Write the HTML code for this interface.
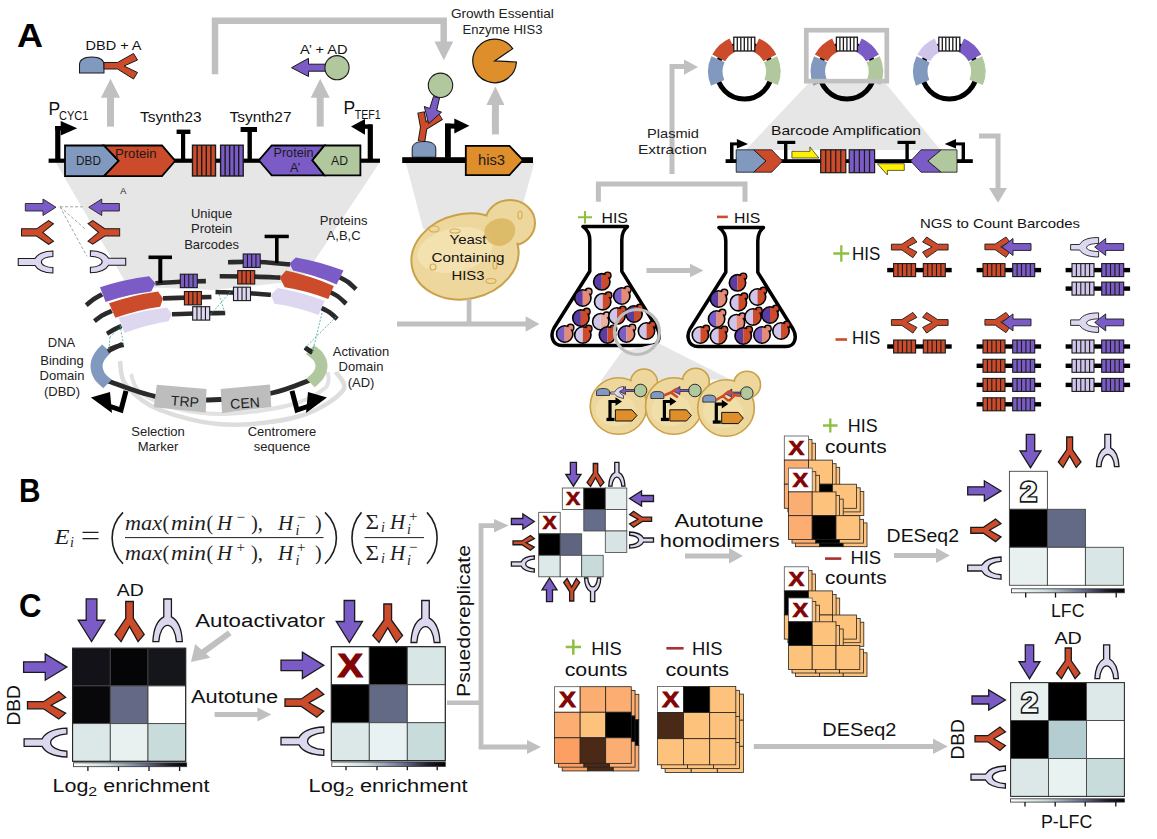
<!DOCTYPE html>
<html><head><meta charset="utf-8"><style>
html,body{margin:0;padding:0;background:#fff;}
svg{display:block;}

</style></head><body>
<svg width="1157" height="839" viewBox="0 0 1157 839">

<defs>
<g id="arr"><path d="M0,6 H19 V0 L33,11 L19,22 V16 H0 Z" fill="#7b5cc6" stroke="#1a1a1a" stroke-width="1"/></g>
<g id="ya"><path d="M0,3 L5,0 L17.5,8 H33 V15 H17.5 L5,23 L0,20 L11,11.5 Z" fill="#cc4b2b" stroke="#1a1a1a" stroke-width="1"/></g>
<g id="ua"><path d="M0,0.5 C9,0.5 15,4 17,8 H33 V15 H17 C15,19 9,22.5 0,22.5 V17 C6,17 11,14.5 11,11.5 C11,8.5 6,6 0,6 Z" fill="#ddd7f0" stroke="#1a1a1a" stroke-width="1"/></g>
<g id="dbd"><path d="M0,16 V8 C0,2.5 5,0 12,0 C19,0 24,2.5 24,8 V16 Z" fill="#8199bf" stroke="#1a1a1a" stroke-width="1"/></g>
</defs>

<text x="17" y="47" font-size="34" text-anchor="start" fill="#000" font-weight="bold" font-family="Liberation Sans" textLength="26" lengthAdjust="spacingAndGlyphs" >A</text><polygon points="55.5,162 380,162 305,275 290,282 213,290 140,287 130,290" fill="#e6e6e6"/><polyline points="215,74.2 215,20.8 443.7,20.8 443.7,42" fill="none" stroke="#c0c0c0" stroke-width="6.5"/><polygon points="434.5,41.5 453.2,41.5 443.8,60.2" fill="#c0c0c0"/><text x="85.5" y="50" font-size="13.5" text-anchor="start" fill="#111" font-weight="normal" font-family="Liberation Sans" textLength="56" lengthAdjust="spacingAndGlyphs" stroke="#111" stroke-width="0" >DBD + A</text><use href="#dbd" transform="translate(79.5,57) rotate(0) scale(1.02,1.0)"/><path d="M104,62.5 H117.5 L133.5,53.5 L137.5,60 L124,66 L137.5,72.5 L133.5,79 L117.5,69 H104 Z" fill="#cc4b2b" stroke="#1a1a1a" stroke-width="1"/><text x="300" y="54" font-size="13.5" text-anchor="start" fill="#111" font-weight="normal" font-family="Liberation Sans" textLength="47.5" lengthAdjust="spacingAndGlyphs" stroke="#111" stroke-width="0" >A&#8217; + AD</text><path d="M291.5,67.7 L308.5,58.3 V64.2 H326 V71.2 H308.5 V76.5 Z" fill="#7b5cc6" stroke="#1a1a1a" stroke-width="1"/><circle cx="337" cy="67.7" r="12.1" fill="#b1c89f" stroke="#1a1a1a" stroke-width="1.1"/><rect x="107.0" y="97.2" width="7" height="29.39999999999999" fill="#c0c0c0"/><polygon points="101.0,97.7 110.5,78.7 120.0,97.7" fill="#c0c0c0"/><rect x="316.7" y="97.2" width="7" height="29.39999999999999" fill="#c0c0c0"/><polygon points="310.7,97.7 320.2,78.7 329.7,97.7" fill="#c0c0c0"/><rect x="48.6" y="158.6" width="331.4" height="4.2" fill="#000"/><rect x="55.2" y="126" width="5.2" height="35" fill="#000"/><rect x="55.2" y="126" width="8" height="4.4" fill="#000"/><polygon points="60.7,121 77.2,128.3 60.7,135.6" fill="#000"/><polygon points="65,145.5 104,145.5 118.7,160.8 104,176.2 65,176.2" fill="#8199bf" stroke="#000" stroke-width="1.8"/><polygon points="104,145.5 162,145.5 175.2,160.8 162,176.2 104,176.2 118.7,160.8" fill="#cc4b2b" stroke="#000" stroke-width="1.8"/><text x="76" y="165" font-size="12.5" text-anchor="start" fill="#1a1a1a" font-weight="normal" font-family="Liberation Sans" textLength="25" lengthAdjust="spacingAndGlyphs" stroke="#1a1a1a" stroke-width="0" >DBD</text><text x="115" y="158" font-size="12.5" text-anchor="start" fill="#1a1a1a" font-weight="normal" font-family="Liberation Sans" textLength="41.5" lengthAdjust="spacingAndGlyphs" stroke="#1a1a1a" stroke-width="0" >Protein</text><rect x="181" y="131" width="4.2" height="30" fill="#000"/><rect x="176.6" y="129.6" width="13.8" height="4.4" fill="#000"/><rect x="247.5" y="128" width="4.4" height="33" fill="#000"/><rect x="240.6" y="127" width="16.4" height="5" fill="#000"/><rect x="192.5" y="145.2" width="23" height="30.8" fill="#cc4b2b" stroke="#1a1a1a" stroke-width="1.4"/><line x1="197.10" y1="145.2" x2="197.10" y2="176.0" stroke="#1a1a1a" stroke-width="1.4"/><line x1="201.70" y1="145.2" x2="201.70" y2="176.0" stroke="#1a1a1a" stroke-width="1.4"/><line x1="206.30" y1="145.2" x2="206.30" y2="176.0" stroke="#1a1a1a" stroke-width="1.4"/><line x1="210.90" y1="145.2" x2="210.90" y2="176.0" stroke="#1a1a1a" stroke-width="1.4"/><rect x="220.6" y="145.2" width="22.6" height="30.8" fill="#7b5cc6" stroke="#1a1a1a" stroke-width="1.4"/><line x1="225.12" y1="145.2" x2="225.12" y2="176.0" stroke="#1a1a1a" stroke-width="1.4"/><line x1="229.64" y1="145.2" x2="229.64" y2="176.0" stroke="#1a1a1a" stroke-width="1.4"/><line x1="234.16" y1="145.2" x2="234.16" y2="176.0" stroke="#1a1a1a" stroke-width="1.4"/><line x1="238.68" y1="145.2" x2="238.68" y2="176.0" stroke="#1a1a1a" stroke-width="1.4"/><polygon points="258.8,160.3 271.7,145.5 324.5,145.5 312.4,160.3 324.5,175.4 271.7,175.4" fill="#7b5cc6" stroke="#000" stroke-width="1.8"/><polygon points="324.5,145.5 360.4,145.5 360.4,175.4 324.5,175.4 312.4,160.3" fill="#b1c89f" stroke="#000" stroke-width="1.8"/><text x="273.5" y="157" font-size="12.5" text-anchor="start" fill="#1a1a1a" font-weight="normal" font-family="Liberation Sans" textLength="40" lengthAdjust="spacingAndGlyphs" stroke="#1a1a1a" stroke-width="0" >Protein</text><text x="290" y="171.5" font-size="12.5" text-anchor="start" fill="#1a1a1a" font-weight="normal" font-family="Liberation Sans" stroke="#1a1a1a" stroke-width="0" >A&#8217;</text><text x="331" y="165" font-size="12.5" text-anchor="start" fill="#1a1a1a" font-weight="normal" font-family="Liberation Sans" textLength="17" lengthAdjust="spacingAndGlyphs" stroke="#1a1a1a" stroke-width="0" >AD</text><rect x="367.7" y="124.4" width="5.2" height="36.5" fill="#000"/><rect x="363" y="124.4" width="9" height="4.4" fill="#000"/><polygon points="351,126.6 365,119 365,134.8" fill="#000"/><text x="48.6" y="115.4" font-size="17.5" text-anchor="start" fill="#111" font-weight="normal" font-family="Liberation Sans" stroke="#111" stroke-width="0" >P</text><text x="59" y="120.3" font-size="12" text-anchor="start" fill="#111" font-weight="normal" font-family="Liberation Sans" textLength="29.4" lengthAdjust="spacingAndGlyphs" stroke="#111" stroke-width="0" >CYC1</text><text x="140" y="122" font-size="14.5" text-anchor="start" fill="#111" font-weight="normal" font-family="Liberation Sans" textLength="61.6" lengthAdjust="spacingAndGlyphs" stroke="#111" stroke-width="0" >Tsynth23</text><text x="229.4" y="122" font-size="14.5" text-anchor="start" fill="#111" font-weight="normal" font-family="Liberation Sans" textLength="62.2" lengthAdjust="spacingAndGlyphs" stroke="#111" stroke-width="0" >Tsynth27</text><text x="343.5" y="113.5" font-size="17.5" text-anchor="start" fill="#111" font-weight="normal" font-family="Liberation Sans" stroke="#111" stroke-width="0" >P</text><text x="354.7" y="118.5" font-size="12" text-anchor="start" fill="#111" font-weight="normal" font-family="Liberation Sans" textLength="26" lengthAdjust="spacingAndGlyphs" stroke="#111" stroke-width="0" >TEF1</text><use href="#arr" transform="translate(25.3,199) rotate(0) scale(0.93,0.75)"/><use href="#arr" transform="translate(119.4,215.5) rotate(180) scale(0.93,0.75)"/><use href="#ya" transform="translate(53.5,244.3) rotate(180) scale(0.97,1.03)"/><use href="#ya" transform="translate(88,220.5) rotate(0) scale(0.96,1.03)"/><use href="#ua" transform="translate(52.9,273.5) rotate(180) scale(1.05,1.0)"/><use href="#ua" transform="translate(90.4,250.3) rotate(0) scale(1.07,1.0)"/><path d="M60,206.8 H82.7 M60,206.8 L86.3,230 M60,206.8 L86.9,256.3" stroke="#999" stroke-width="0.9" stroke-dasharray="3,2" fill="none"/><text x="120.2" y="193.7" font-size="9" text-anchor="start" fill="#222" font-weight="normal" font-family="Liberation Sans" stroke="#222" stroke-width="0" >A</text><path d="M120.0,361.0 C121.0,365.0 119.3,376.8 126.0,385.0 C132.7,393.2 143.3,403.4 160.0,410.0 C176.7,416.6 202.7,423.6 226.0,424.6 C249.3,425.6 280.6,421.6 300.0,416.0 C319.4,410.4 336.6,398.3 342.6,391.0 C348.6,383.7 337.1,375.2 336.0,372.0" fill="none" stroke="#dddddd" stroke-width="4.5"/><path d="M131.0,374.0 C132.5,377.0 132.7,386.3 140.0,392.0 C147.3,397.7 160.7,404.3 175.0,408.0 C189.3,411.7 206.8,414.5 226.0,414.0 C245.2,413.5 273.5,409.3 290.0,405.0 C306.5,400.7 318.7,393.5 325.0,388.0 C331.3,382.5 327.5,374.7 328.0,372.0" fill="none" stroke="#e2e2e2" stroke-width="4"/><path d="M107.8,381.0 C115.7,383.6 138.3,393.1 155.0,396.3 C171.7,399.5 188.6,400.5 207.8,400.0 C227.0,399.5 252.5,397.0 270.0,393.5 C287.5,390.0 305.7,381.4 312.8,379.0" fill="none" stroke="#2a2a2a" stroke-width="4.8"/><path d="M106.5,348.5 C105.3,349.8 101.2,353.6 99.5,356.5 C97.8,359.4 96.5,362.8 96.5,366.0 C96.5,369.2 97.7,373.0 99.5,376.0 C101.3,379.0 106.2,382.7 107.5,384.0" fill="none" stroke="#8199bf" stroke-width="12"/><path d="M310.0,349.5 C311.4,350.8 316.6,354.2 318.5,357.0 C320.4,359.8 321.5,363.0 321.5,366.0 C321.5,369.0 320.3,372.2 318.5,375.0 C316.7,377.8 311.8,381.7 310.5,383.0" fill="none" stroke="#b1c89f" stroke-width="12"/><path d="M107.8,351.3 L122.4,344" stroke="#2a2a2a" stroke-width="4.5"/><path d="M305,347.7 L312.3,352.5" stroke="#2a2a2a" stroke-width="4.5"/><polygon points="156.8,384.8 206.5,389 205.8,412.6 153.8,407.2" fill="#bdbdbd"/><polygon points="220.7,389 270,384.5 271.3,407 222,413" fill="#bdbdbd"/><text x="171" y="406" font-size="14" text-anchor="start" fill="#222" font-weight="normal" font-family="Liberation Sans" stroke="#222" stroke-width="0" transform="rotate(4 180 400)">TRP</text><text x="230" y="408" font-size="14" text-anchor="start" fill="#222" font-weight="normal" font-family="Liberation Sans" stroke="#222" stroke-width="0" transform="rotate(-4 245 400)">CEN</text><path d="M126,390.8 L121,410 L106,405" fill="none" stroke="#000" stroke-width="5"/><polygon points="90.9,397.5 110,392 112,413" fill="#000"/><path d="M292,390.8 L297,410 L312,405" fill="none" stroke="#000" stroke-width="5"/><polygon points="327,397.5 308,392 306,413" fill="#000"/><path d="M86.2,305.3 C87.5,304.2 91.3,300.8 94.0,299.0 C96.7,297.2 100.8,295.1 102.1,294.3" fill="none" stroke="#2a2a2a" stroke-width="4.6"/><path d="M155.4,283.2 C159.5,283.0 171.6,282.1 180.0,281.8 C188.4,281.5 201.6,281.2 205.9,281.1" fill="none" stroke="#2a2a2a" stroke-width="4.6"/><path d="M94.5,321.2 C95.8,320.2 99.1,317.2 102.0,315.5 C104.9,313.8 110.2,311.7 111.8,310.9" fill="none" stroke="#2a2a2a" stroke-width="4.6"/><path d="M163.0,298.4 C167.5,298.2 181.9,297.7 190.0,297.5 C198.1,297.3 207.8,297.1 211.4,297.0" fill="none" stroke="#2a2a2a" stroke-width="4.6"/><path d="M107.0,333.7 C108.2,333.0 111.6,330.8 114.0,329.5 C116.4,328.2 120.2,326.6 121.5,326.0" fill="none" stroke="#2a2a2a" stroke-width="4.6"/><path d="M172.0,314.3 C176.7,314.1 191.1,313.5 200.0,313.3 C208.9,313.1 221.0,313.1 225.2,313.0" fill="none" stroke="#2a2a2a" stroke-width="4.6"/><path d="M109.0,349.6 C110.2,349.1 113.6,347.6 116.0,346.8 C118.4,346.0 122.3,345.1 123.6,344.7" fill="none" stroke="#2a2a2a" stroke-width="4.6"/><path d="M228.0,262.3 C232.5,262.2 244.7,261.5 255.0,261.8 C265.3,262.1 284.2,264.0 290.0,264.4" fill="none" stroke="#2a2a2a" stroke-width="4.6"/><path d="M338.0,276.5 C339.7,277.4 345.0,279.9 348.0,282.0 C351.0,284.1 354.7,288.1 356.0,289.3" fill="none" stroke="#2a2a2a" stroke-width="4.6"/><path d="M219.7,276.2 C224.8,276.2 239.9,276.3 250.0,276.5 C260.1,276.7 275.4,277.4 280.5,277.6" fill="none" stroke="#2a2a2a" stroke-width="4.6"/><path d="M329.0,291.5 C330.5,292.3 335.1,294.4 338.0,296.5 C340.9,298.6 344.8,302.6 346.2,303.8" fill="none" stroke="#2a2a2a" stroke-width="4.6"/><path d="M215.5,292.0 C220.4,292.2 235.8,292.5 245.0,293.0 C254.2,293.5 266.6,294.5 270.9,294.8" fill="none" stroke="#2a2a2a" stroke-width="4.6"/><path d="M319.0,307.0 C320.7,307.8 326.0,310.0 329.0,312.0 C332.0,314.0 335.8,317.8 337.2,319.0" fill="none" stroke="#2a2a2a" stroke-width="4.6"/><path d="M305,347.7 L312.3,352.5" fill="none" stroke="#2a2a2a" stroke-width="4.6"/><path d="M105.6,301.9 L100,287.3 Q124.6,279.3 149.2,276.3 L155.4,283.2 L151.2,291.5 Q128.4,294.2 105.6,301.9 Z" fill="#7b5cc6"/><path d="M115.3,317.8 L109,303.2 Q133.6,294.9 158.1,291.5 L163,298.4 L160.2,306.7 Q137.8,309.8 115.3,317.8 Z" fill="#cc4b2b"/><path d="M124.3,333 L118.7,317.8 Q142.9,310.1 167.1,307.4 L172,314.3 L168.5,321.2 Q146.4,324.6 124.3,333 Z" fill="#ddd7f0"/><path d="M289.5,263.5 L295.8,257.5 Q319.6,261.6 343.5,270.6 L336.6,284.5 Q314.8,275.1 293,270.6 Z" fill="#7b5cc6"/><path d="M279.8,277.6 L286,270.6 Q309.9,275.8 333.8,285.9 L328.3,299 Q306.5,290.6 284.7,287.2 Z" fill="#cc4b2b"/><path d="M270.9,294.8 L277.8,288 Q301.3,292.0 324.8,301 L318.6,314.9 Q296.5,306.9 274.3,303.8 Z" fill="#ddd7f0"/><rect x="180.3" y="274.2" width="17" height="13.4" fill="#7b5cc6" stroke="#1a1a1a" stroke-width="1.1"/><line x1="184.55" y1="274.2" x2="184.55" y2="287.59999999999997" stroke="#1a1a1a" stroke-width="1.1"/><line x1="188.80" y1="274.2" x2="188.80" y2="287.59999999999997" stroke="#1a1a1a" stroke-width="1.1"/><line x1="193.05" y1="274.2" x2="193.05" y2="287.59999999999997" stroke="#1a1a1a" stroke-width="1.1"/><rect x="184.4" y="291.5" width="17" height="13.4" fill="#cc4b2b" stroke="#1a1a1a" stroke-width="1.1"/><line x1="188.65" y1="291.5" x2="188.65" y2="304.9" stroke="#1a1a1a" stroke-width="1.1"/><line x1="192.90" y1="291.5" x2="192.90" y2="304.9" stroke="#1a1a1a" stroke-width="1.1"/><line x1="197.15" y1="291.5" x2="197.15" y2="304.9" stroke="#1a1a1a" stroke-width="1.1"/><rect x="192.7" y="306.7" width="17" height="13.4" fill="#ddd7f0" stroke="#1a1a1a" stroke-width="1.1"/><line x1="196.95" y1="306.7" x2="196.95" y2="320.09999999999997" stroke="#1a1a1a" stroke-width="1.1"/><line x1="201.20" y1="306.7" x2="201.20" y2="320.09999999999997" stroke="#1a1a1a" stroke-width="1.1"/><line x1="205.45" y1="306.7" x2="205.45" y2="320.09999999999997" stroke="#1a1a1a" stroke-width="1.1"/><rect x="243.2" y="254" width="17" height="13.4" fill="#7b5cc6" stroke="#1a1a1a" stroke-width="1.1"/><line x1="247.45" y1="254" x2="247.45" y2="267.4" stroke="#1a1a1a" stroke-width="1.1"/><line x1="251.70" y1="254" x2="251.70" y2="267.4" stroke="#1a1a1a" stroke-width="1.1"/><line x1="255.95" y1="254" x2="255.95" y2="267.4" stroke="#1a1a1a" stroke-width="1.1"/><rect x="237.7" y="270.6" width="17" height="13.4" fill="#cc4b2b" stroke="#1a1a1a" stroke-width="1.1"/><line x1="241.95" y1="270.6" x2="241.95" y2="284.0" stroke="#1a1a1a" stroke-width="1.1"/><line x1="246.20" y1="270.6" x2="246.20" y2="284.0" stroke="#1a1a1a" stroke-width="1.1"/><line x1="250.45" y1="270.6" x2="250.45" y2="284.0" stroke="#1a1a1a" stroke-width="1.1"/><rect x="233.5" y="287.2" width="17" height="13.4" fill="#ddd7f0" stroke="#1a1a1a" stroke-width="1.1"/><line x1="237.75" y1="287.2" x2="237.75" y2="300.59999999999997" stroke="#1a1a1a" stroke-width="1.1"/><line x1="242.00" y1="287.2" x2="242.00" y2="300.59999999999997" stroke="#1a1a1a" stroke-width="1.1"/><line x1="246.25" y1="287.2" x2="246.25" y2="300.59999999999997" stroke="#1a1a1a" stroke-width="1.1"/><rect x="158.3" y="257" width="4" height="26" fill="#000"/><rect x="148.5" y="255.5" width="23.5" height="3.6" fill="#000"/><rect x="275" y="236" width="3.6" height="27" fill="#000"/><rect x="264.6" y="234.7" width="24.2" height="3.5" fill="#000"/><path d="M120,325.4 L123.6,344.7 M109.7,337 L122,326 M109,349.6 L110,337 M219,294.3 L224.5,311.5 M232.8,289.4 L210.7,314.3 M322,313 L312.3,352.5 M305,347.7 L336,317" stroke="#3aa89a" stroke-width="0.8" stroke-dasharray="2,1.5" fill="none"/><text x="211.6" y="217.5" font-size="13" text-anchor="middle" fill="#222" font-weight="normal" font-family="Liberation Sans" stroke="#222" stroke-width="0" >Unique</text><text x="211.6" y="233" font-size="13" text-anchor="middle" fill="#222" font-weight="normal" font-family="Liberation Sans" stroke="#222" stroke-width="0" >Protein</text><text x="211.6" y="248.5" font-size="13" text-anchor="middle" fill="#222" font-weight="normal" font-family="Liberation Sans" stroke="#222" stroke-width="0" >Barcodes</text><text x="343.6" y="224.5" font-size="13" text-anchor="middle" fill="#222" font-weight="normal" font-family="Liberation Sans" stroke="#222" stroke-width="0" >Proteins</text><text x="343.6" y="239.5" font-size="13" text-anchor="middle" fill="#222" font-weight="normal" font-family="Liberation Sans" stroke="#222" stroke-width="0" >A,B,C</text><text x="61.5" y="347.3" font-size="13" text-anchor="middle" fill="#222" font-weight="normal" font-family="Liberation Sans" stroke="#222" stroke-width="0" >DNA</text><text x="62" y="364.5" font-size="13" text-anchor="middle" fill="#222" font-weight="normal" font-family="Liberation Sans" stroke="#222" stroke-width="0" >Binding</text><text x="62" y="380" font-size="13" text-anchor="middle" fill="#222" font-weight="normal" font-family="Liberation Sans" stroke="#222" stroke-width="0" >Domain</text><text x="62" y="395.5" font-size="13" text-anchor="middle" fill="#222" font-weight="normal" font-family="Liberation Sans" stroke="#222" stroke-width="0" >(DBD)</text><text x="361" y="355.5" font-size="13" text-anchor="middle" fill="#222" font-weight="normal" font-family="Liberation Sans" stroke="#222" stroke-width="0" >Activation</text><text x="361" y="371" font-size="13" text-anchor="middle" fill="#222" font-weight="normal" font-family="Liberation Sans" stroke="#222" stroke-width="0" >Domain</text><text x="361" y="386.5" font-size="13" text-anchor="middle" fill="#222" font-weight="normal" font-family="Liberation Sans" stroke="#222" stroke-width="0" >(AD)</text><text x="158" y="436" font-size="13" text-anchor="middle" fill="#222" font-weight="normal" font-family="Liberation Sans" stroke="#222" stroke-width="0" >Selection</text><text x="158" y="451" font-size="13" text-anchor="middle" fill="#222" font-weight="normal" font-family="Liberation Sans" stroke="#222" stroke-width="0" >Marker</text><text x="282" y="436.3" font-size="13" text-anchor="middle" fill="#222" font-weight="normal" font-family="Liberation Sans" stroke="#222" stroke-width="0" >Centromere</text><text x="282" y="451.3" font-size="13" text-anchor="middle" fill="#222" font-weight="normal" font-family="Liberation Sans" stroke="#222" stroke-width="0" >sequence</text><polygon points="405.7,162.5 534.4,162.5 521,211 423.4,229.6" fill="#e6e6e6"/><text x="502.4" y="18.2" font-size="13" text-anchor="middle" fill="#222" font-weight="normal" font-family="Liberation Sans" textLength="103" lengthAdjust="spacingAndGlyphs" stroke="#222" stroke-width="0" >Growth Essential</text><text x="502.5" y="34.2" font-size="13" text-anchor="middle" fill="#222" font-weight="normal" font-family="Liberation Sans" textLength="80" lengthAdjust="spacingAndGlyphs" stroke="#222" stroke-width="0" >Enzyme HIS3</text><path d="M494.6,60.9 L516.4,62.0 A21.8,21.8 0 1 1 512.7,48.7 Z" fill="#de8f2b" stroke="#111" stroke-width="1.2"/><rect x="491.9" y="104.5" width="7" height="29.900000000000006" fill="#c0c0c0"/><polygon points="486.4,105 495.4,86.5 504.4,105" fill="#c0c0c0"/><circle cx="440.5" cy="85.3" r="12.2" fill="#b1c89f" stroke="#1a1a1a" stroke-width="1.1"/><path d="M421.5,141.5 L423.8,127 L421,112 M423.8,127 L441,116.5" fill="none" stroke="#1a1a1a" stroke-width="7.6" stroke-linejoin="round"/><path d="M421.5,141 L423.8,127 L421,112.8 M423.8,127 L440.4,116.9" fill="none" stroke="#cc4b2b" stroke-width="5.6" stroke-linejoin="round"/><path d="M433.5,96.5 L439.5,98 L436.7,110.3 L441.5,112.2 L428.6,123.6 L424.3,106.5 L429.7,108.5 Z" fill="#7b5cc6" stroke="#1a1a1a" stroke-width="1"/><path d="M412.2,157.2 V149 C412.2,143.5 417,141.5 424,141.5 C431,141.5 435.8,143.5 435.8,149 V157.2 Z" fill="#8199bf" stroke="#1a1a1a" stroke-width="1"/><rect x="402.2" y="157.2" width="130.8" height="5.8" fill="#000"/><rect x="445" y="123.6" width="5.8" height="34" fill="#000"/><rect x="445" y="123.6" width="10" height="5" fill="#000"/><polygon points="454.3,118.6 469.4,125.8 454.3,133.6" fill="#000"/><polygon points="465.8,145.8 509.4,145.8 523,160.1 509.4,175.1 465.8,175.1" fill="#de8f2b" stroke="#000" stroke-width="1.8"/><text x="478" y="165.3" font-size="15" text-anchor="start" fill="#1a1a1a" font-weight="normal" font-family="Liberation Sans" textLength="27" lengthAdjust="spacingAndGlyphs" stroke="#1a1a1a" stroke-width="0" >his3</text><ellipse cx="510" cy="223" rx="25" ry="23" fill="#eed79c" stroke="#c9a148" stroke-width="2"/><ellipse cx="465" cy="256.5" rx="54" ry="42.5" transform="rotate(-12 465 256.5)" fill="#eed79c" stroke="#c9a148" stroke-width="2"/><ellipse cx="509" cy="223" rx="23" ry="21" fill="#eed79c"/><ellipse cx="455" cy="250" rx="38" ry="22" transform="rotate(-12 455 250)" fill="#f4e4b4" opacity="0.8"/><path d="M485,228 C490,218 505,215 512,222 C520,230 512,245 500,246 C490,246 482,238 485,228 Z" fill="#d8b55c" opacity="0.8"/><ellipse cx="434" cy="229" rx="5" ry="3" fill="none" stroke="#d4ae55" stroke-width="1.2"/><ellipse cx="455" cy="231" rx="5" ry="2" fill="none" stroke="#d4ae55" stroke-width="1.2"/><ellipse cx="433" cy="267" rx="3" ry="3" fill="none" stroke="#d4ae55" stroke-width="1.2"/><ellipse cx="491" cy="281" rx="5" ry="2.5" fill="none" stroke="#d4ae55" stroke-width="1.2"/><ellipse cx="520" cy="215" rx="2" ry="4" fill="none" stroke="#d4ae55" stroke-width="1.2"/><ellipse cx="495" cy="265" rx="2" ry="4" fill="none" stroke="#d4ae55" stroke-width="1.2"/><text x="468" y="244" font-size="13.5" text-anchor="middle" fill="#111" font-weight="normal" font-family="Liberation Sans" textLength="37" lengthAdjust="spacingAndGlyphs" stroke="#111" stroke-width="0" >Yeast</text><text x="468" y="261.5" font-size="13.5" text-anchor="middle" fill="#111" font-weight="normal" font-family="Liberation Sans" textLength="73" lengthAdjust="spacingAndGlyphs" stroke="#111" stroke-width="0" >Containing</text><text x="468" y="279.5" font-size="13.5" text-anchor="middle" fill="#111" font-weight="normal" font-family="Liberation Sans" textLength="33" lengthAdjust="spacingAndGlyphs" stroke="#111" stroke-width="0" >HIS3</text><rect x="466.7" y="299" width="4.7" height="25" fill="#c0c0c0"/><rect x="397" y="321.5" width="130" height="5" fill="#c0c0c0"/><polygon points="525.6,316.3 539.5,324 525.6,331.8" fill="#c0c0c0"/><path d="M578,217.2 H592 M585,211 V223.4" stroke="#8dc040" stroke-width="2"/><text x="601.5" y="223.4" font-size="15.5" text-anchor="start" fill="#111" font-weight="normal" font-family="Liberation Sans" textLength="26.3" lengthAdjust="spacingAndGlyphs" stroke="#111" stroke-width="0" >HIS</text><rect x="717" y="215.6" width="10.8" height="2.6" fill="#cc4b2b"/><text x="734" y="223.4" font-size="15.5" text-anchor="start" fill="#111" font-weight="normal" font-family="Liberation Sans" textLength="26.3" lengthAdjust="spacingAndGlyphs" stroke="#111" stroke-width="0" >HIS</text><polyline points="598.4,201.7 598.4,184 745,184 745,201.7" fill="none" stroke="#c0c0c0" stroke-width="5"/><polyline points="672,174 672,66.4 686,66.4" fill="none" stroke="#c0c0c0" stroke-width="5"/><polygon points="684,59.5 698,67 684,74.7" fill="#c0c0c0"/><text x="673" y="137.5" font-size="13" text-anchor="middle" fill="#222" font-weight="normal" font-family="Liberation Sans" textLength="52" lengthAdjust="spacingAndGlyphs" stroke="#222" stroke-width="0" >Plasmid</text><text x="672.5" y="153.5" font-size="13" text-anchor="middle" fill="#222" font-weight="normal" font-family="Liberation Sans" textLength="69" lengthAdjust="spacingAndGlyphs" stroke="#222" stroke-width="0" >Extraction</text><path d="M583,226.6 H627.5 C623,230 621.8,234 621.8,240 V271.3 L657,328 C661,335 660,345.5 650,345.5 H562 C552,345.5 550,335 554,328 L589.8,271.3 V240 C589.8,234 588,230 583,226.6 Z" fill="#fff" stroke="#000" stroke-width="3.5" stroke-linejoin="round"/><path d="M719,227.6 H763.5 C759,231 757.8,235 757.8,241 V272.3 L793,329 C797,336 796,346.5 786,346.5 H698 C688,346.5 686,336 690,329 L725.8,272.3 V241 C725.8,235 724,231 719,227.6 Z" fill="#fff" stroke="#000" stroke-width="3.5" stroke-linejoin="round"/><circle cx="607.6" cy="275.5" r="3.4" fill="#cc4b2b" stroke="#000" stroke-width="1.4"/><clipPath id="c6018_2818"><circle cx="601.8" cy="281.8" r="8.2"/></clipPath><g clip-path="url(#c6018_2818)"><rect x="593.5999999999999" y="273.6" width="8.2" height="16.4" fill="#5b3ca2"/><rect x="601.8" y="273.6" width="8.2" height="16.4" fill="#cc4b2b"/></g><circle cx="601.8" cy="281.8" r="8.2" fill="none" stroke="#000" stroke-width="1.6"/><rect x="605.3" y="274.2" width="3.6" height="3.2" fill="#cc4b2b"/><circle cx="588.6" cy="291.7" r="3.4" fill="#e58c78" stroke="#000" stroke-width="1.4"/><clipPath id="c5828_2980"><circle cx="582.8" cy="298" r="8.2"/></clipPath><g clip-path="url(#c5828_2980)"><rect x="574.5999999999999" y="289.8" width="8.2" height="16.4" fill="#5b3ca2"/><rect x="582.8" y="289.8" width="8.2" height="16.4" fill="#e58c78"/></g><circle cx="582.8" cy="298" r="8.2" fill="none" stroke="#000" stroke-width="1.6"/><rect x="586.3" y="290.4" width="3.6" height="3.2" fill="#e58c78"/><circle cx="608.5" cy="295.4" r="3.4" fill="#cc4b2b" stroke="#000" stroke-width="1.4"/><clipPath id="c6027_3017"><circle cx="602.7" cy="301.7" r="8.2"/></clipPath><g clip-path="url(#c6027_3017)"><rect x="594.5" y="293.5" width="8.2" height="16.4" fill="#cfc4ea"/><rect x="602.7" y="293.5" width="8.2" height="16.4" fill="#cc4b2b"/></g><circle cx="602.7" cy="301.7" r="8.2" fill="none" stroke="#000" stroke-width="1.6"/><rect x="606.2" y="294.09999999999997" width="3.6" height="3.2" fill="#cc4b2b"/><circle cx="627.6" cy="289.7" r="3.4" fill="#e58c78" stroke="#000" stroke-width="1.4"/><clipPath id="c6218_2960"><circle cx="621.8" cy="296" r="8.2"/></clipPath><g clip-path="url(#c6218_2960)"><rect x="613.5999999999999" y="287.8" width="8.2" height="16.4" fill="#7a5ec8"/><rect x="621.8" y="287.8" width="8.2" height="16.4" fill="#e58c78"/></g><circle cx="621.8" cy="296" r="8.2" fill="none" stroke="#000" stroke-width="1.6"/><rect x="625.3" y="288.4" width="3.6" height="3.2" fill="#e58c78"/><circle cx="586.7" cy="311.7" r="3.4" fill="#cc4b2b" stroke="#000" stroke-width="1.4"/><clipPath id="c5809_3180"><circle cx="580.9" cy="318" r="8.2"/></clipPath><g clip-path="url(#c5809_3180)"><rect x="572.6999999999999" y="309.8" width="8.2" height="16.4" fill="#5b3ca2"/><rect x="580.9" y="309.8" width="8.2" height="16.4" fill="#cc4b2b"/></g><circle cx="580.9" cy="318" r="8.2" fill="none" stroke="#000" stroke-width="1.6"/><rect x="584.4" y="310.4" width="3.6" height="3.2" fill="#cc4b2b"/><circle cx="606.6" cy="315.4" r="3.4" fill="#ebb2a3" stroke="#000" stroke-width="1.4"/><clipPath id="c6008_3217"><circle cx="600.8" cy="321.7" r="8.2"/></clipPath><g clip-path="url(#c6008_3217)"><rect x="592.5999999999999" y="313.5" width="8.2" height="16.4" fill="#cfc4ea"/><rect x="600.8" y="313.5" width="8.2" height="16.4" fill="#ebb2a3"/></g><circle cx="600.8" cy="321.7" r="8.2" fill="none" stroke="#000" stroke-width="1.6"/><rect x="604.3" y="314.09999999999997" width="3.6" height="3.2" fill="#ebb2a3"/><circle cx="622.8" cy="309.7" r="3.4" fill="#cc4b2b" stroke="#000" stroke-width="1.4"/><clipPath id="c6170_3160"><circle cx="617" cy="316" r="8.2"/></clipPath><g clip-path="url(#c6170_3160)"><rect x="608.8" y="307.8" width="8.2" height="16.4" fill="#cfc4ea"/><rect x="617" y="307.8" width="8.2" height="16.4" fill="#cc4b2b"/></g><circle cx="617" cy="316" r="8.2" fill="none" stroke="#000" stroke-width="1.6"/><rect x="620.5" y="308.4" width="3.6" height="3.2" fill="#cc4b2b"/><circle cx="639.8" cy="307.7" r="3.4" fill="#cc4b2b" stroke="#000" stroke-width="1.4"/><clipPath id="c6340_3140"><circle cx="634" cy="314" r="8.2"/></clipPath><g clip-path="url(#c6340_3140)"><rect x="625.8" y="305.8" width="8.2" height="16.4" fill="#5b3ca2"/><rect x="634" y="305.8" width="8.2" height="16.4" fill="#cc4b2b"/></g><circle cx="634" cy="314" r="8.2" fill="none" stroke="#000" stroke-width="1.6"/><rect x="637.5" y="306.4" width="3.6" height="3.2" fill="#cc4b2b"/><circle cx="570.5" cy="327.7" r="3.4" fill="#e58c78" stroke="#000" stroke-width="1.4"/><clipPath id="c5647_3340"><circle cx="564.7" cy="334" r="8.2"/></clipPath><g clip-path="url(#c5647_3340)"><rect x="556.5" y="325.8" width="8.2" height="16.4" fill="#7a5ec8"/><rect x="564.7" y="325.8" width="8.2" height="16.4" fill="#e58c78"/></g><circle cx="564.7" cy="334" r="8.2" fill="none" stroke="#000" stroke-width="1.6"/><rect x="568.2" y="326.4" width="3.6" height="3.2" fill="#e58c78"/><circle cx="588.6" cy="328.7" r="3.4" fill="#cc4b2b" stroke="#000" stroke-width="1.4"/><clipPath id="c5828_3350"><circle cx="582.8" cy="335" r="8.2"/></clipPath><g clip-path="url(#c5828_3350)"><rect x="574.5999999999999" y="326.8" width="8.2" height="16.4" fill="#cfc4ea"/><rect x="582.8" y="326.8" width="8.2" height="16.4" fill="#cc4b2b"/></g><circle cx="582.8" cy="335" r="8.2" fill="none" stroke="#000" stroke-width="1.6"/><rect x="586.3" y="327.4" width="3.6" height="3.2" fill="#cc4b2b"/><circle cx="613.3" cy="328.7" r="3.4" fill="#cc4b2b" stroke="#000" stroke-width="1.4"/><clipPath id="c6075_3350"><circle cx="607.5" cy="335" r="8.2"/></clipPath><g clip-path="url(#c6075_3350)"><rect x="599.3" y="326.8" width="8.2" height="16.4" fill="#5b3ca2"/><rect x="607.5" y="326.8" width="8.2" height="16.4" fill="#cc4b2b"/></g><circle cx="607.5" cy="335" r="8.2" fill="none" stroke="#000" stroke-width="1.6"/><rect x="611.0" y="327.4" width="3.6" height="3.2" fill="#cc4b2b"/><circle cx="632.3" cy="327.7" r="3.4" fill="#e58c78" stroke="#000" stroke-width="1.4"/><clipPath id="c6265_3340"><circle cx="626.5" cy="334" r="8.2"/></clipPath><g clip-path="url(#c6265_3340)"><rect x="618.3" y="325.8" width="8.2" height="16.4" fill="#7a5ec8"/><rect x="626.5" y="325.8" width="8.2" height="16.4" fill="#e58c78"/></g><circle cx="626.5" cy="334" r="8.2" fill="none" stroke="#000" stroke-width="1.6"/><rect x="630.0" y="326.4" width="3.6" height="3.2" fill="#e58c78"/><circle cx="652.3" cy="324.7" r="3.4" fill="#cc4b2b" stroke="#000" stroke-width="1.4"/><clipPath id="c6465_3310"><circle cx="646.5" cy="331" r="8.2"/></clipPath><g clip-path="url(#c6465_3310)"><rect x="638.3" y="322.8" width="8.2" height="16.4" fill="#cfc4ea"/><rect x="646.5" y="322.8" width="8.2" height="16.4" fill="#cc4b2b"/></g><circle cx="646.5" cy="331" r="8.2" fill="none" stroke="#000" stroke-width="1.6"/><rect x="650.0" y="323.4" width="3.6" height="3.2" fill="#cc4b2b"/><circle cx="743.3" cy="276.5" r="3.4" fill="#cc4b2b" stroke="#000" stroke-width="1.4"/><clipPath id="c7375_2828"><circle cx="737.5" cy="282.8" r="8.2"/></clipPath><g clip-path="url(#c7375_2828)"><rect x="729.3" y="274.6" width="8.2" height="16.4" fill="#5b3ca2"/><rect x="737.5" y="274.6" width="8.2" height="16.4" fill="#cc4b2b"/></g><circle cx="737.5" cy="282.8" r="8.2" fill="none" stroke="#000" stroke-width="1.6"/><rect x="741.0" y="275.2" width="3.6" height="3.2" fill="#cc4b2b"/><circle cx="724.3" cy="292.7" r="3.4" fill="#e58c78" stroke="#000" stroke-width="1.4"/><clipPath id="c7185_2990"><circle cx="718.5" cy="299" r="8.2"/></clipPath><g clip-path="url(#c7185_2990)"><rect x="710.3" y="290.8" width="8.2" height="16.4" fill="#5b3ca2"/><rect x="718.5" y="290.8" width="8.2" height="16.4" fill="#e58c78"/></g><circle cx="718.5" cy="299" r="8.2" fill="none" stroke="#000" stroke-width="1.6"/><rect x="722.0" y="291.4" width="3.6" height="3.2" fill="#e58c78"/><circle cx="744.2" cy="296.4" r="3.4" fill="#cc4b2b" stroke="#000" stroke-width="1.4"/><clipPath id="c7384_3027"><circle cx="738.4" cy="302.7" r="8.2"/></clipPath><g clip-path="url(#c7384_3027)"><rect x="730.1999999999999" y="294.5" width="8.2" height="16.4" fill="#cfc4ea"/><rect x="738.4" y="294.5" width="8.2" height="16.4" fill="#cc4b2b"/></g><circle cx="738.4" cy="302.7" r="8.2" fill="none" stroke="#000" stroke-width="1.6"/><rect x="741.9" y="295.09999999999997" width="3.6" height="3.2" fill="#cc4b2b"/><circle cx="763.3" cy="290.7" r="3.4" fill="#cc4b2b" stroke="#000" stroke-width="1.4"/><clipPath id="c7575_2970"><circle cx="757.5" cy="297" r="8.2"/></clipPath><g clip-path="url(#c7575_2970)"><rect x="749.3" y="288.8" width="8.2" height="16.4" fill="#cfc4ea"/><rect x="757.5" y="288.8" width="8.2" height="16.4" fill="#cc4b2b"/></g><circle cx="757.5" cy="297" r="8.2" fill="none" stroke="#000" stroke-width="1.6"/><rect x="761.0" y="289.4" width="3.6" height="3.2" fill="#cc4b2b"/><circle cx="722.4" cy="312.7" r="3.4" fill="#e58c78" stroke="#000" stroke-width="1.4"/><clipPath id="c7166_3190"><circle cx="716.6" cy="319" r="8.2"/></clipPath><g clip-path="url(#c7166_3190)"><rect x="708.4" y="310.8" width="8.2" height="16.4" fill="#7a5ec8"/><rect x="716.6" y="310.8" width="8.2" height="16.4" fill="#e58c78"/></g><circle cx="716.6" cy="319" r="8.2" fill="none" stroke="#000" stroke-width="1.6"/><rect x="720.1" y="311.4" width="3.6" height="3.2" fill="#e58c78"/><circle cx="742.3" cy="316.4" r="3.4" fill="#e58c78" stroke="#000" stroke-width="1.4"/><clipPath id="c7365_3227"><circle cx="736.5" cy="322.7" r="8.2"/></clipPath><g clip-path="url(#c7365_3227)"><rect x="728.3" y="314.5" width="8.2" height="16.4" fill="#cfc4ea"/><rect x="736.5" y="314.5" width="8.2" height="16.4" fill="#e58c78"/></g><circle cx="736.5" cy="322.7" r="8.2" fill="none" stroke="#000" stroke-width="1.6"/><rect x="740.0" y="315.09999999999997" width="3.6" height="3.2" fill="#e58c78"/><circle cx="758.8" cy="310.7" r="3.4" fill="#cc4b2b" stroke="#000" stroke-width="1.4"/><clipPath id="c7530_3170"><circle cx="753" cy="317" r="8.2"/></clipPath><g clip-path="url(#c7530_3170)"><rect x="744.8" y="308.8" width="8.2" height="16.4" fill="#cfc4ea"/><rect x="753" y="308.8" width="8.2" height="16.4" fill="#cc4b2b"/></g><circle cx="753" cy="317" r="8.2" fill="none" stroke="#000" stroke-width="1.6"/><rect x="756.5" y="309.4" width="3.6" height="3.2" fill="#cc4b2b"/><circle cx="775.8" cy="308.7" r="3.4" fill="#cc4b2b" stroke="#000" stroke-width="1.4"/><clipPath id="c7700_3150"><circle cx="770" cy="315" r="8.2"/></clipPath><g clip-path="url(#c7700_3150)"><rect x="761.8" y="306.8" width="8.2" height="16.4" fill="#5b3ca2"/><rect x="770" y="306.8" width="8.2" height="16.4" fill="#cc4b2b"/></g><circle cx="770" cy="315" r="8.2" fill="none" stroke="#000" stroke-width="1.6"/><rect x="773.5" y="307.4" width="3.6" height="3.2" fill="#cc4b2b"/><circle cx="706.2" cy="328.7" r="3.4" fill="#cc4b2b" stroke="#000" stroke-width="1.4"/><clipPath id="c7004_3350"><circle cx="700.4" cy="335" r="8.2"/></clipPath><g clip-path="url(#c7004_3350)"><rect x="692.1999999999999" y="326.8" width="8.2" height="16.4" fill="#cfc4ea"/><rect x="700.4" y="326.8" width="8.2" height="16.4" fill="#cc4b2b"/></g><circle cx="700.4" cy="335" r="8.2" fill="none" stroke="#000" stroke-width="1.6"/><rect x="703.9" y="327.4" width="3.6" height="3.2" fill="#cc4b2b"/><circle cx="724.3" cy="329.7" r="3.4" fill="#cc4b2b" stroke="#000" stroke-width="1.4"/><clipPath id="c7185_3360"><circle cx="718.5" cy="336" r="8.2"/></clipPath><g clip-path="url(#c7185_3360)"><rect x="710.3" y="327.8" width="8.2" height="16.4" fill="#cfc4ea"/><rect x="718.5" y="327.8" width="8.2" height="16.4" fill="#cc4b2b"/></g><circle cx="718.5" cy="336" r="8.2" fill="none" stroke="#000" stroke-width="1.6"/><rect x="722.0" y="328.4" width="3.6" height="3.2" fill="#cc4b2b"/><circle cx="749.0" cy="329.7" r="3.4" fill="#cc4b2b" stroke="#000" stroke-width="1.4"/><clipPath id="c7432_3360"><circle cx="743.2" cy="336" r="8.2"/></clipPath><g clip-path="url(#c7432_3360)"><rect x="735.0" y="327.8" width="8.2" height="16.4" fill="#5b3ca2"/><rect x="743.2" y="327.8" width="8.2" height="16.4" fill="#cc4b2b"/></g><circle cx="743.2" cy="336" r="8.2" fill="none" stroke="#000" stroke-width="1.6"/><rect x="746.7" y="328.4" width="3.6" height="3.2" fill="#cc4b2b"/><circle cx="767.8" cy="328.7" r="3.4" fill="#e58c78" stroke="#000" stroke-width="1.4"/><clipPath id="c7620_3350"><circle cx="762" cy="335" r="8.2"/></clipPath><g clip-path="url(#c7620_3350)"><rect x="753.8" y="326.8" width="8.2" height="16.4" fill="#7a5ec8"/><rect x="762" y="326.8" width="8.2" height="16.4" fill="#e58c78"/></g><circle cx="762" cy="335" r="8.2" fill="none" stroke="#000" stroke-width="1.6"/><rect x="765.5" y="327.4" width="3.6" height="3.2" fill="#e58c78"/><circle cx="786.8" cy="324.7" r="3.4" fill="#cc4b2b" stroke="#000" stroke-width="1.4"/><clipPath id="c7810_3310"><circle cx="781" cy="331" r="8.2"/></clipPath><g clip-path="url(#c7810_3310)"><rect x="772.8" y="322.8" width="8.2" height="16.4" fill="#cfc4ea"/><rect x="781" y="322.8" width="8.2" height="16.4" fill="#cc4b2b"/></g><circle cx="781" cy="331" r="8.2" fill="none" stroke="#000" stroke-width="1.6"/><rect x="784.5" y="323.4" width="3.6" height="3.2" fill="#cc4b2b"/><rect x="646.5" y="268" width="44" height="5" fill="#c0c0c0"/><polygon points="690,263.7 703.5,270.5 690,277.2" fill="#c0c0c0"/><polygon points="621.5,352 657.8,343 730.4,379.5 600.7,381" fill="#e6e6e6"/><circle cx="637" cy="332" r="22.5" fill="none" stroke="#bdbdbd" stroke-width="3.2"/><circle cx="644" cy="382.5" r="13.5" fill="#eed79c" stroke="#c9a148" stroke-width="1.6"/><circle cx="618.5" cy="406" r="28.3" fill="#eed79c" stroke="#c9a148" stroke-width="1.6"/><circle cx="643" cy="383.5" r="11.5" fill="#eed79c"/><ellipse cx="615.5" cy="410" rx="20" ry="16" fill="#f2e2b0" opacity="0.7"/><circle cx="695.8" cy="381.7" r="13.5" fill="#eed79c" stroke="#c9a148" stroke-width="1.6"/><circle cx="673.8" cy="406" r="28.3" fill="#eed79c" stroke="#c9a148" stroke-width="1.6"/><circle cx="694.8" cy="382.7" r="11.5" fill="#eed79c"/><ellipse cx="670.8" cy="410" rx="20" ry="16" fill="#f2e2b0" opacity="0.7"/><circle cx="747" cy="384.7" r="13.5" fill="#eed79c" stroke="#c9a148" stroke-width="1.6"/><circle cx="726" cy="408" r="28.3" fill="#eed79c" stroke="#c9a148" stroke-width="1.6"/><circle cx="746" cy="385.7" r="11.5" fill="#eed79c"/><ellipse cx="723" cy="412" rx="20" ry="16" fill="#f2e2b0" opacity="0.7"/><path d="M596.5,395.5 V392.0 C596.5,389.5 599.0,388.5 603.0,388.5 C607.0,388.5 609.5,389.5 609.5,392.0 V395.5 Z" fill="#8199bf" stroke="#1a1a1a" stroke-width="0.8"/><circle cx="640.5" cy="390.5" r="6.3" fill="#b1c89f" stroke="#1a1a1a" stroke-width="0.9"/><path d="M634.5,389.5 H625.5 V386.5 L618.5,391.0 L625.5,394.5 V391.5 H634.5 Z" fill="#7b5cc6" stroke="#1a1a1a" stroke-width="0.7"/><path d="M610.5,392.0 H614.5 C616.5,388.5 619.5,387.0 623.5,386.5 V389.5 C619.5,390.5 617.5,392.5 623.5,395.5 V398.5 C619.5,397.5 616.5,396.5 614.5,394.0 H610.5 Z" fill="#ddd7f0" stroke="#1a1a1a" stroke-width="0.7"/><path d="M610,419.5 V401.5 H616" fill="none" stroke="#000" stroke-width="3.2"/><polygon points="615.5,397.2 622,401.5 615.5,405.8" fill="#000"/><rect x="606.5" y="417.8" width="8" height="3.3" fill="#000"/><polygon points="615.4,409.8 632,409.8 637,415.5 632,421.0 615.4,421.0" fill="#de8f2b" stroke="#111" stroke-width="1"/><path d="M650.9,398.5 V395.0 C650.9,392.5 653.4,391.5 657.4,391.5 C661.4,391.5 663.9,392.5 663.9,395.0 V398.5 Z" fill="#8199bf" stroke="#1a1a1a" stroke-width="0.8"/><circle cx="694.9" cy="390.5" r="6.3" fill="#b1c89f" stroke="#1a1a1a" stroke-width="0.9"/><path d="M688.9,389.5 H679.9 V386.5 L672.9,391.0 L679.9,394.5 V391.5 H688.9 Z" fill="#7b5cc6" stroke="#1a1a1a" stroke-width="0.7"/><path d="M663.9,395.5 L670.9,392.5 L676.9,388.5 M670.9,392.5 L677.9,397.5" stroke="#cc4b2b" stroke-width="2.6" fill="none"/><path d="M664.4,419.5 V401.5 H670.4" fill="none" stroke="#000" stroke-width="3.2"/><polygon points="669.9,397.2 676.4,401.5 669.9,405.8" fill="#000"/><rect x="660.9" y="417.8" width="8" height="3.3" fill="#000"/><polygon points="669.8,409.8 686.4,409.8 691.4,415.5 686.4,421.0 669.8,421.0" fill="#de8f2b" stroke="#111" stroke-width="1"/><path d="M702.8,402.1 V398.6 C702.8,396.1 705.3,395.1 709.3,395.1 C713.3,395.1 715.8,396.1 715.8,398.6 V402.1 Z" fill="#8199bf" stroke="#1a1a1a" stroke-width="0.8"/><circle cx="746.8" cy="393.1" r="6.3" fill="#b1c89f" stroke="#1a1a1a" stroke-width="0.9"/><path d="M740.8,392.1 H731.8 V389.1 L724.8,393.6 L731.8,397.1 V394.1 H740.8 Z" fill="#7b5cc6" stroke="#1a1a1a" stroke-width="0.7"/><path d="M715.8,400.1 L722.8,396.1 L728.8,391.1 M722.8,396.1 L728.8,401.1 M728.8,391.1 L734.8,395.1 L740.8,396.1 M728.8,401.1 L734.8,395.1 " stroke="#cc4b2b" stroke-width="2.4" fill="none"/><path d="M716.3,422.1 V404.1 H722.3" fill="none" stroke="#000" stroke-width="3.2"/><polygon points="721.8,399.8 728.3,404.1 721.8,408.40000000000003" fill="#000"/><rect x="712.8" y="420.40000000000003" width="8" height="3.3" fill="#000"/><polygon points="721.6999999999999,412.40000000000003 738.3,412.40000000000003 743.3,418.1 738.3,423.6 721.6999999999999,423.6" fill="#de8f2b" stroke="#111" stroke-width="1"/><polygon points="808,83.8 886,83.8 940.6,150 745.5,150" fill="#e6e6e6"/><circle cx="744.3" cy="71.5" r="27.5" fill="none" stroke="#000" stroke-width="5"/><path d="M717.61,82.83 A29,29 0 0 1 718.02,59.24" fill="none" stroke="#8199bf" stroke-width="14.5"/><path d="M770.58,59.24 A29,29 0 0 1 771.19,82.36" fill="none" stroke="#b1c89f" stroke-width="14.5"/><path d="M718.69,57.89 A29,29 0 0 1 732.50,45.01" fill="none" stroke="#cc4b2b" stroke-width="14.5"/><path d="M756.10,45.01 A29,29 0 0 1 769.91,57.89" fill="none" stroke="#cc4b2b" stroke-width="14.5"/><rect x="733.8" y="37.2" width="21" height="13.8" fill="#fff" stroke="#1a1a1a" stroke-width="1.3"/><line x1="737.30" y1="37.2" x2="737.30" y2="51.0" stroke="#1a1a1a" stroke-width="1.3"/><line x1="740.80" y1="37.2" x2="740.80" y2="51.0" stroke="#1a1a1a" stroke-width="1.3"/><line x1="744.30" y1="37.2" x2="744.30" y2="51.0" stroke="#1a1a1a" stroke-width="1.3"/><line x1="747.80" y1="37.2" x2="747.80" y2="51.0" stroke="#1a1a1a" stroke-width="1.3"/><line x1="751.30" y1="37.2" x2="751.30" y2="51.0" stroke="#1a1a1a" stroke-width="1.3"/><circle cx="846.9" cy="71.5" r="27.5" fill="none" stroke="#000" stroke-width="5"/><path d="M820.21,82.83 A29,29 0 0 1 820.62,59.24" fill="none" stroke="#8199bf" stroke-width="14.5"/><path d="M873.18,59.24 A29,29 0 0 1 873.79,82.36" fill="none" stroke="#b1c89f" stroke-width="14.5"/><path d="M821.29,57.89 A29,29 0 0 1 835.10,45.01" fill="none" stroke="#cc4b2b" stroke-width="14.5"/><path d="M858.70,45.01 A29,29 0 0 1 872.51,57.89" fill="none" stroke="#7b5cc6" stroke-width="14.5"/><rect x="836.4" y="37.2" width="21" height="13.8" fill="#fff" stroke="#1a1a1a" stroke-width="1.3"/><line x1="839.90" y1="37.2" x2="839.90" y2="51.0" stroke="#1a1a1a" stroke-width="1.3"/><line x1="843.40" y1="37.2" x2="843.40" y2="51.0" stroke="#1a1a1a" stroke-width="1.3"/><line x1="846.90" y1="37.2" x2="846.90" y2="51.0" stroke="#1a1a1a" stroke-width="1.3"/><line x1="850.40" y1="37.2" x2="850.40" y2="51.0" stroke="#1a1a1a" stroke-width="1.3"/><line x1="853.90" y1="37.2" x2="853.90" y2="51.0" stroke="#1a1a1a" stroke-width="1.3"/><circle cx="949.3" cy="71.5" r="27.5" fill="none" stroke="#000" stroke-width="5"/><path d="M922.61,82.83 A29,29 0 0 1 923.02,59.24" fill="none" stroke="#8199bf" stroke-width="14.5"/><path d="M975.58,59.24 A29,29 0 0 1 976.19,82.36" fill="none" stroke="#b1c89f" stroke-width="14.5"/><path d="M923.69,57.89 A29,29 0 0 1 937.50,45.01" fill="none" stroke="#cfc4ea" stroke-width="14.5"/><path d="M961.10,45.01 A29,29 0 0 1 974.91,57.89" fill="none" stroke="#7b5cc6" stroke-width="14.5"/><rect x="938.8" y="37.2" width="21" height="13.8" fill="#fff" stroke="#1a1a1a" stroke-width="1.3"/><line x1="942.30" y1="37.2" x2="942.30" y2="51.0" stroke="#1a1a1a" stroke-width="1.3"/><line x1="945.80" y1="37.2" x2="945.80" y2="51.0" stroke="#1a1a1a" stroke-width="1.3"/><line x1="949.30" y1="37.2" x2="949.30" y2="51.0" stroke="#1a1a1a" stroke-width="1.3"/><line x1="952.80" y1="37.2" x2="952.80" y2="51.0" stroke="#1a1a1a" stroke-width="1.3"/><line x1="956.30" y1="37.2" x2="956.30" y2="51.0" stroke="#1a1a1a" stroke-width="1.3"/><rect x="806.3" y="30.2" width="80.5" height="51" fill="none" stroke="#c0c0c0" stroke-width="4.7"/><text x="846" y="135" font-size="13.5" text-anchor="middle" fill="#111" font-weight="normal" font-family="Liberation Sans" textLength="150" lengthAdjust="spacingAndGlyphs" stroke="#111" stroke-width="0" >Barcode Amplification</text><rect x="725.6" y="159.2" width="247.2" height="3.8" fill="#000"/><rect x="730" y="143" width="3.5" height="18" fill="#000"/><rect x="730" y="142.4" width="9" height="3" fill="#000"/><polygon points="736.9,139 748,144 736.9,148.5" fill="#000"/><polygon points="736.2,149.8 753.7,149.8 766,161 753.7,172.2 736.2,172.2" fill="#8199bf" stroke="#111" stroke-width="0.8"/><polygon points="753.7,149.8 771.7,149.8 782.5,161 771.7,172.2 753.7,172.2 766,161" fill="#cc4b2b" stroke="#111" stroke-width="0.8"/><rect x="784" y="142" width="3.4" height="19" fill="#000"/><rect x="777.3" y="140.8" width="18" height="3.2" fill="#000"/><polygon points="791.9,151.3 809.9,151.3 809.9,146.9 818.9,158 791.9,158" fill="#ffef00" stroke="#222" stroke-width="0.7"/><rect x="820.7" y="149.8" width="25.1" height="22.9" fill="#cc4b2b" stroke="#1a1a1a" stroke-width="1.2"/><line x1="825.72" y1="149.8" x2="825.72" y2="172.70000000000002" stroke="#1a1a1a" stroke-width="1.2"/><line x1="830.74" y1="149.8" x2="830.74" y2="172.70000000000002" stroke="#1a1a1a" stroke-width="1.2"/><line x1="835.76" y1="149.8" x2="835.76" y2="172.70000000000002" stroke="#1a1a1a" stroke-width="1.2"/><line x1="840.78" y1="149.8" x2="840.78" y2="172.70000000000002" stroke="#1a1a1a" stroke-width="1.2"/><rect x="849.2" y="149.8" width="25.4" height="22.9" fill="#7b5cc6" stroke="#1a1a1a" stroke-width="1.2"/><line x1="854.28" y1="149.8" x2="854.28" y2="172.70000000000002" stroke="#1a1a1a" stroke-width="1.2"/><line x1="859.36" y1="149.8" x2="859.36" y2="172.70000000000002" stroke="#1a1a1a" stroke-width="1.2"/><line x1="864.44" y1="149.8" x2="864.44" y2="172.70000000000002" stroke="#1a1a1a" stroke-width="1.2"/><line x1="869.52" y1="149.8" x2="869.52" y2="172.70000000000002" stroke="#1a1a1a" stroke-width="1.2"/><polygon points="877.3,163.7 904.3,163.7 904.3,170.4 887.4,170.4 887.4,175" fill="#ffef00" stroke="#222" stroke-width="0.7"/><rect x="905.4" y="142" width="3.4" height="19" fill="#000"/><rect x="897.5" y="140.8" width="18" height="3.2" fill="#000"/><polygon points="910.6,161 921,149.8 941.3,149.8 927.9,161 941.3,172.2 921,172.2" fill="#7b5cc6" stroke="#111" stroke-width="0.8"/><polygon points="941.3,149.8 957,149.8 957,172.2 941.3,172.2 927.9,161" fill="#b1c89f" stroke="#111" stroke-width="0.8"/><rect x="961.6" y="143" width="3.4" height="18" fill="#000"/><rect x="955" y="142.4" width="10" height="3" fill="#000"/><polygon points="956,139 944.7,144 956,148.5" fill="#000"/><polyline points="979,136 998,136 998,188" fill="none" stroke="#c0c0c0" stroke-width="5"/><polygon points="989,188 1007,188 998,202.7" fill="#c0c0c0"/><text x="1000" y="228" font-size="13" text-anchor="middle" fill="#111" font-weight="normal" font-family="Liberation Sans" textLength="160" lengthAdjust="spacingAndGlyphs" stroke="#111" stroke-width="0" >NGS to Count Barcodes</text><path d="M833.3,253.5 H849.3 M841.3,245.2 V261.8" stroke="#8dc040" stroke-width="2.3"/><text x="852" y="260.4" font-size="19" text-anchor="start" fill="#111" font-weight="normal" font-family="Liberation Sans" textLength="28.3" lengthAdjust="spacingAndGlyphs" stroke="#111" stroke-width="0" >HIS</text><rect x="835.5" y="338.2" width="11.6" height="2.6" fill="#cc4b2b"/><text x="852" y="344.3" font-size="19" text-anchor="start" fill="#111" font-weight="normal" font-family="Liberation Sans" textLength="28.3" lengthAdjust="spacingAndGlyphs" stroke="#111" stroke-width="0" >HIS</text><g transform="translate(891.4,237) scale(1.0)"><path d="M0,7.2 H10.5 L21.5,0 L25.5,5 L16,10 L25.5,15 L21.5,20.7 L10.5,13 H0 Z" fill="#cc4b2b" stroke="#1a1a1a" stroke-width="0.9"/></g><g transform="translate(948.0999999999999,237) scale(-1.0,1.0)"><path d="M0,7.2 H10.5 L21.5,0 L25.5,5 L16,10 L25.5,15 L21.5,20.7 L10.5,13 H0 Z" fill="#cc4b2b" stroke="#1a1a1a" stroke-width="0.9"/></g><g transform="translate(984.9,237) scale(0.98)"><path d="M0,7.2 H10.5 L21.5,0 L25.5,5 L16,10 L25.5,15 L21.5,20.7 L10.5,13 H0 Z" fill="#cc4b2b" stroke="#1a1a1a" stroke-width="0.9"/></g><path d="M1002,247.0 L1013,238.5 V243.6 H1031 V250.4 H1013 V255.5 Z" fill="#7b5cc6" stroke="#1a1a1a" stroke-width="0.9"/><path d="M1070.6,244.5 H1079.6 C1082.6,239.5 1088.6,237.5 1098.6,237.5 V243.5 C1090.6,243.5 1086.6,245.5 1086.6,247.5 C1086.6,249.5 1090.6,251.5 1098.6,251.5 V257.0 C1088.6,257.0 1082.6,254.5 1079.6,250.0 H1070.6 Z" fill="#ddd7f0" stroke="#1a1a1a" stroke-width="0.9"/><path d="M1094.7,247.0 L1105.7,238.5 V243.6 H1123.7 V250.4 H1105.7 V255.5 Z" fill="#7b5cc6" stroke="#1a1a1a" stroke-width="0.9"/><rect x="887.2" y="267.90000000000003" width="64.5" height="4.4" fill="#000"/><rect x="893.6" y="263.6" width="22" height="13" fill="#cc4b2b" stroke="#1a1a1a" stroke-width="1.1"/><line x1="898.00" y1="263.6" x2="898.00" y2="276.6" stroke="#1a1a1a" stroke-width="1.1"/><line x1="902.40" y1="263.6" x2="902.40" y2="276.6" stroke="#1a1a1a" stroke-width="1.1"/><line x1="906.80" y1="263.6" x2="906.80" y2="276.6" stroke="#1a1a1a" stroke-width="1.1"/><line x1="911.20" y1="263.6" x2="911.20" y2="276.6" stroke="#1a1a1a" stroke-width="1.1"/><rect x="923.3000000000001" y="263.6" width="22" height="13" fill="#cc4b2b" stroke="#1a1a1a" stroke-width="1.1"/><line x1="927.70" y1="263.6" x2="927.70" y2="276.6" stroke="#1a1a1a" stroke-width="1.1"/><line x1="932.10" y1="263.6" x2="932.10" y2="276.6" stroke="#1a1a1a" stroke-width="1.1"/><line x1="936.50" y1="263.6" x2="936.50" y2="276.6" stroke="#1a1a1a" stroke-width="1.1"/><line x1="940.90" y1="263.6" x2="940.90" y2="276.6" stroke="#1a1a1a" stroke-width="1.1"/><rect x="976.6" y="267.90000000000003" width="64.5" height="4.4" fill="#000"/><rect x="983.0" y="263.6" width="22" height="13" fill="#cc4b2b" stroke="#1a1a1a" stroke-width="1.1"/><line x1="987.40" y1="263.6" x2="987.40" y2="276.6" stroke="#1a1a1a" stroke-width="1.1"/><line x1="991.80" y1="263.6" x2="991.80" y2="276.6" stroke="#1a1a1a" stroke-width="1.1"/><line x1="996.20" y1="263.6" x2="996.20" y2="276.6" stroke="#1a1a1a" stroke-width="1.1"/><line x1="1000.60" y1="263.6" x2="1000.60" y2="276.6" stroke="#1a1a1a" stroke-width="1.1"/><rect x="1012.6999999999998" y="263.6" width="22" height="13" fill="#7b5cc6" stroke="#1a1a1a" stroke-width="1.1"/><line x1="1017.10" y1="263.6" x2="1017.10" y2="276.6" stroke="#1a1a1a" stroke-width="1.1"/><line x1="1021.50" y1="263.6" x2="1021.50" y2="276.6" stroke="#1a1a1a" stroke-width="1.1"/><line x1="1025.90" y1="263.6" x2="1025.90" y2="276.6" stroke="#1a1a1a" stroke-width="1.1"/><line x1="1030.30" y1="263.6" x2="1030.30" y2="276.6" stroke="#1a1a1a" stroke-width="1.1"/><rect x="1065.6" y="267.90000000000003" width="64.5" height="4.4" fill="#000"/><rect x="1072.0" y="263.6" width="22" height="13" fill="#cfc4ea" stroke="#1a1a1a" stroke-width="1.1"/><line x1="1076.40" y1="263.6" x2="1076.40" y2="276.6" stroke="#1a1a1a" stroke-width="1.1"/><line x1="1080.80" y1="263.6" x2="1080.80" y2="276.6" stroke="#1a1a1a" stroke-width="1.1"/><line x1="1085.20" y1="263.6" x2="1085.20" y2="276.6" stroke="#1a1a1a" stroke-width="1.1"/><line x1="1089.60" y1="263.6" x2="1089.60" y2="276.6" stroke="#1a1a1a" stroke-width="1.1"/><rect x="1101.6999999999998" y="263.6" width="22" height="13" fill="#7b5cc6" stroke="#1a1a1a" stroke-width="1.1"/><line x1="1106.10" y1="263.6" x2="1106.10" y2="276.6" stroke="#1a1a1a" stroke-width="1.1"/><line x1="1110.50" y1="263.6" x2="1110.50" y2="276.6" stroke="#1a1a1a" stroke-width="1.1"/><line x1="1114.90" y1="263.6" x2="1114.90" y2="276.6" stroke="#1a1a1a" stroke-width="1.1"/><line x1="1119.30" y1="263.6" x2="1119.30" y2="276.6" stroke="#1a1a1a" stroke-width="1.1"/><rect x="1065.6" y="286.40000000000003" width="64.5" height="4.4" fill="#000"/><rect x="1072.0" y="282.1" width="22" height="13" fill="#cfc4ea" stroke="#1a1a1a" stroke-width="1.1"/><line x1="1076.40" y1="282.1" x2="1076.40" y2="295.1" stroke="#1a1a1a" stroke-width="1.1"/><line x1="1080.80" y1="282.1" x2="1080.80" y2="295.1" stroke="#1a1a1a" stroke-width="1.1"/><line x1="1085.20" y1="282.1" x2="1085.20" y2="295.1" stroke="#1a1a1a" stroke-width="1.1"/><line x1="1089.60" y1="282.1" x2="1089.60" y2="295.1" stroke="#1a1a1a" stroke-width="1.1"/><rect x="1101.6999999999998" y="282.1" width="22" height="13" fill="#7b5cc6" stroke="#1a1a1a" stroke-width="1.1"/><line x1="1106.10" y1="282.1" x2="1106.10" y2="295.1" stroke="#1a1a1a" stroke-width="1.1"/><line x1="1110.50" y1="282.1" x2="1110.50" y2="295.1" stroke="#1a1a1a" stroke-width="1.1"/><line x1="1114.90" y1="282.1" x2="1114.90" y2="295.1" stroke="#1a1a1a" stroke-width="1.1"/><line x1="1119.30" y1="282.1" x2="1119.30" y2="295.1" stroke="#1a1a1a" stroke-width="1.1"/><g transform="translate(891.4,312.4) scale(1.0)"><path d="M0,7.2 H10.5 L21.5,0 L25.5,5 L16,10 L25.5,15 L21.5,20.7 L10.5,13 H0 Z" fill="#cc4b2b" stroke="#1a1a1a" stroke-width="0.9"/></g><g transform="translate(948.0999999999999,312.4) scale(-1.0,1.0)"><path d="M0,7.2 H10.5 L21.5,0 L25.5,5 L16,10 L25.5,15 L21.5,20.7 L10.5,13 H0 Z" fill="#cc4b2b" stroke="#1a1a1a" stroke-width="0.9"/></g><g transform="translate(984.9,312.4) scale(0.98)"><path d="M0,7.2 H10.5 L21.5,0 L25.5,5 L16,10 L25.5,15 L21.5,20.7 L10.5,13 H0 Z" fill="#cc4b2b" stroke="#1a1a1a" stroke-width="0.9"/></g><path d="M1002,322.4 L1013,313.9 V319.0 H1031 V325.79999999999995 H1013 V330.9 Z" fill="#7b5cc6" stroke="#1a1a1a" stroke-width="0.9"/><path d="M1070.6,319.9 H1079.6 C1082.6,314.9 1088.6,312.9 1098.6,312.9 V318.9 C1090.6,318.9 1086.6,320.9 1086.6,322.9 C1086.6,324.9 1090.6,326.9 1098.6,326.9 V332.4 C1088.6,332.4 1082.6,329.9 1079.6,325.4 H1070.6 Z" fill="#ddd7f0" stroke="#1a1a1a" stroke-width="0.9"/><path d="M1094.7,322.4 L1105.7,313.9 V319.0 H1123.7 V325.79999999999995 H1105.7 V330.9 Z" fill="#7b5cc6" stroke="#1a1a1a" stroke-width="0.9"/><rect x="887.2" y="344.3" width="64.5" height="4.4" fill="#000"/><rect x="893.6" y="340.0" width="22" height="13" fill="#cc4b2b" stroke="#1a1a1a" stroke-width="1.1"/><line x1="898.00" y1="340.0" x2="898.00" y2="353.0" stroke="#1a1a1a" stroke-width="1.1"/><line x1="902.40" y1="340.0" x2="902.40" y2="353.0" stroke="#1a1a1a" stroke-width="1.1"/><line x1="906.80" y1="340.0" x2="906.80" y2="353.0" stroke="#1a1a1a" stroke-width="1.1"/><line x1="911.20" y1="340.0" x2="911.20" y2="353.0" stroke="#1a1a1a" stroke-width="1.1"/><rect x="923.3000000000001" y="340.0" width="22" height="13" fill="#cc4b2b" stroke="#1a1a1a" stroke-width="1.1"/><line x1="927.70" y1="340.0" x2="927.70" y2="353.0" stroke="#1a1a1a" stroke-width="1.1"/><line x1="932.10" y1="340.0" x2="932.10" y2="353.0" stroke="#1a1a1a" stroke-width="1.1"/><line x1="936.50" y1="340.0" x2="936.50" y2="353.0" stroke="#1a1a1a" stroke-width="1.1"/><line x1="940.90" y1="340.0" x2="940.90" y2="353.0" stroke="#1a1a1a" stroke-width="1.1"/><rect x="976.6" y="344.3" width="64.5" height="4.4" fill="#000"/><rect x="983.0" y="340.0" width="22" height="13" fill="#cc4b2b" stroke="#1a1a1a" stroke-width="1.1"/><line x1="987.40" y1="340.0" x2="987.40" y2="353.0" stroke="#1a1a1a" stroke-width="1.1"/><line x1="991.80" y1="340.0" x2="991.80" y2="353.0" stroke="#1a1a1a" stroke-width="1.1"/><line x1="996.20" y1="340.0" x2="996.20" y2="353.0" stroke="#1a1a1a" stroke-width="1.1"/><line x1="1000.60" y1="340.0" x2="1000.60" y2="353.0" stroke="#1a1a1a" stroke-width="1.1"/><rect x="1012.6999999999998" y="340.0" width="22" height="13" fill="#7b5cc6" stroke="#1a1a1a" stroke-width="1.1"/><line x1="1017.10" y1="340.0" x2="1017.10" y2="353.0" stroke="#1a1a1a" stroke-width="1.1"/><line x1="1021.50" y1="340.0" x2="1021.50" y2="353.0" stroke="#1a1a1a" stroke-width="1.1"/><line x1="1025.90" y1="340.0" x2="1025.90" y2="353.0" stroke="#1a1a1a" stroke-width="1.1"/><line x1="1030.30" y1="340.0" x2="1030.30" y2="353.0" stroke="#1a1a1a" stroke-width="1.1"/><rect x="976.6" y="363.6" width="64.5" height="4.4" fill="#000"/><rect x="983.0" y="359.3" width="22" height="13" fill="#cc4b2b" stroke="#1a1a1a" stroke-width="1.1"/><line x1="987.40" y1="359.3" x2="987.40" y2="372.3" stroke="#1a1a1a" stroke-width="1.1"/><line x1="991.80" y1="359.3" x2="991.80" y2="372.3" stroke="#1a1a1a" stroke-width="1.1"/><line x1="996.20" y1="359.3" x2="996.20" y2="372.3" stroke="#1a1a1a" stroke-width="1.1"/><line x1="1000.60" y1="359.3" x2="1000.60" y2="372.3" stroke="#1a1a1a" stroke-width="1.1"/><rect x="1012.6999999999998" y="359.3" width="22" height="13" fill="#7b5cc6" stroke="#1a1a1a" stroke-width="1.1"/><line x1="1017.10" y1="359.3" x2="1017.10" y2="372.3" stroke="#1a1a1a" stroke-width="1.1"/><line x1="1021.50" y1="359.3" x2="1021.50" y2="372.3" stroke="#1a1a1a" stroke-width="1.1"/><line x1="1025.90" y1="359.3" x2="1025.90" y2="372.3" stroke="#1a1a1a" stroke-width="1.1"/><line x1="1030.30" y1="359.3" x2="1030.30" y2="372.3" stroke="#1a1a1a" stroke-width="1.1"/><rect x="976.6" y="382.7" width="64.5" height="4.4" fill="#000"/><rect x="983.0" y="378.4" width="22" height="13" fill="#cc4b2b" stroke="#1a1a1a" stroke-width="1.1"/><line x1="987.40" y1="378.4" x2="987.40" y2="391.4" stroke="#1a1a1a" stroke-width="1.1"/><line x1="991.80" y1="378.4" x2="991.80" y2="391.4" stroke="#1a1a1a" stroke-width="1.1"/><line x1="996.20" y1="378.4" x2="996.20" y2="391.4" stroke="#1a1a1a" stroke-width="1.1"/><line x1="1000.60" y1="378.4" x2="1000.60" y2="391.4" stroke="#1a1a1a" stroke-width="1.1"/><rect x="1012.6999999999998" y="378.4" width="22" height="13" fill="#7b5cc6" stroke="#1a1a1a" stroke-width="1.1"/><line x1="1017.10" y1="378.4" x2="1017.10" y2="391.4" stroke="#1a1a1a" stroke-width="1.1"/><line x1="1021.50" y1="378.4" x2="1021.50" y2="391.4" stroke="#1a1a1a" stroke-width="1.1"/><line x1="1025.90" y1="378.4" x2="1025.90" y2="391.4" stroke="#1a1a1a" stroke-width="1.1"/><line x1="1030.30" y1="378.4" x2="1030.30" y2="391.4" stroke="#1a1a1a" stroke-width="1.1"/><rect x="976.6" y="402.1" width="64.5" height="4.4" fill="#000"/><rect x="983.0" y="397.8" width="22" height="13" fill="#cc4b2b" stroke="#1a1a1a" stroke-width="1.1"/><line x1="987.40" y1="397.8" x2="987.40" y2="410.8" stroke="#1a1a1a" stroke-width="1.1"/><line x1="991.80" y1="397.8" x2="991.80" y2="410.8" stroke="#1a1a1a" stroke-width="1.1"/><line x1="996.20" y1="397.8" x2="996.20" y2="410.8" stroke="#1a1a1a" stroke-width="1.1"/><line x1="1000.60" y1="397.8" x2="1000.60" y2="410.8" stroke="#1a1a1a" stroke-width="1.1"/><rect x="1012.6999999999998" y="397.8" width="22" height="13" fill="#7b5cc6" stroke="#1a1a1a" stroke-width="1.1"/><line x1="1017.10" y1="397.8" x2="1017.10" y2="410.8" stroke="#1a1a1a" stroke-width="1.1"/><line x1="1021.50" y1="397.8" x2="1021.50" y2="410.8" stroke="#1a1a1a" stroke-width="1.1"/><line x1="1025.90" y1="397.8" x2="1025.90" y2="410.8" stroke="#1a1a1a" stroke-width="1.1"/><line x1="1030.30" y1="397.8" x2="1030.30" y2="410.8" stroke="#1a1a1a" stroke-width="1.1"/><rect x="1065.6" y="344.3" width="64.5" height="4.4" fill="#000"/><rect x="1072.0" y="340.0" width="22" height="13" fill="#cfc4ea" stroke="#1a1a1a" stroke-width="1.1"/><line x1="1076.40" y1="340.0" x2="1076.40" y2="353.0" stroke="#1a1a1a" stroke-width="1.1"/><line x1="1080.80" y1="340.0" x2="1080.80" y2="353.0" stroke="#1a1a1a" stroke-width="1.1"/><line x1="1085.20" y1="340.0" x2="1085.20" y2="353.0" stroke="#1a1a1a" stroke-width="1.1"/><line x1="1089.60" y1="340.0" x2="1089.60" y2="353.0" stroke="#1a1a1a" stroke-width="1.1"/><rect x="1101.6999999999998" y="340.0" width="22" height="13" fill="#7b5cc6" stroke="#1a1a1a" stroke-width="1.1"/><line x1="1106.10" y1="340.0" x2="1106.10" y2="353.0" stroke="#1a1a1a" stroke-width="1.1"/><line x1="1110.50" y1="340.0" x2="1110.50" y2="353.0" stroke="#1a1a1a" stroke-width="1.1"/><line x1="1114.90" y1="340.0" x2="1114.90" y2="353.0" stroke="#1a1a1a" stroke-width="1.1"/><line x1="1119.30" y1="340.0" x2="1119.30" y2="353.0" stroke="#1a1a1a" stroke-width="1.1"/><rect x="1065.6" y="363.6" width="64.5" height="4.4" fill="#000"/><rect x="1072.0" y="359.3" width="22" height="13" fill="#cfc4ea" stroke="#1a1a1a" stroke-width="1.1"/><line x1="1076.40" y1="359.3" x2="1076.40" y2="372.3" stroke="#1a1a1a" stroke-width="1.1"/><line x1="1080.80" y1="359.3" x2="1080.80" y2="372.3" stroke="#1a1a1a" stroke-width="1.1"/><line x1="1085.20" y1="359.3" x2="1085.20" y2="372.3" stroke="#1a1a1a" stroke-width="1.1"/><line x1="1089.60" y1="359.3" x2="1089.60" y2="372.3" stroke="#1a1a1a" stroke-width="1.1"/><rect x="1101.6999999999998" y="359.3" width="22" height="13" fill="#7b5cc6" stroke="#1a1a1a" stroke-width="1.1"/><line x1="1106.10" y1="359.3" x2="1106.10" y2="372.3" stroke="#1a1a1a" stroke-width="1.1"/><line x1="1110.50" y1="359.3" x2="1110.50" y2="372.3" stroke="#1a1a1a" stroke-width="1.1"/><line x1="1114.90" y1="359.3" x2="1114.90" y2="372.3" stroke="#1a1a1a" stroke-width="1.1"/><line x1="1119.30" y1="359.3" x2="1119.30" y2="372.3" stroke="#1a1a1a" stroke-width="1.1"/><rect x="1065.6" y="382.7" width="64.5" height="4.4" fill="#000"/><rect x="1072.0" y="378.4" width="22" height="13" fill="#cfc4ea" stroke="#1a1a1a" stroke-width="1.1"/><line x1="1076.40" y1="378.4" x2="1076.40" y2="391.4" stroke="#1a1a1a" stroke-width="1.1"/><line x1="1080.80" y1="378.4" x2="1080.80" y2="391.4" stroke="#1a1a1a" stroke-width="1.1"/><line x1="1085.20" y1="378.4" x2="1085.20" y2="391.4" stroke="#1a1a1a" stroke-width="1.1"/><line x1="1089.60" y1="378.4" x2="1089.60" y2="391.4" stroke="#1a1a1a" stroke-width="1.1"/><rect x="1101.6999999999998" y="378.4" width="22" height="13" fill="#7b5cc6" stroke="#1a1a1a" stroke-width="1.1"/><line x1="1106.10" y1="378.4" x2="1106.10" y2="391.4" stroke="#1a1a1a" stroke-width="1.1"/><line x1="1110.50" y1="378.4" x2="1110.50" y2="391.4" stroke="#1a1a1a" stroke-width="1.1"/><line x1="1114.90" y1="378.4" x2="1114.90" y2="391.4" stroke="#1a1a1a" stroke-width="1.1"/><line x1="1119.30" y1="378.4" x2="1119.30" y2="391.4" stroke="#1a1a1a" stroke-width="1.1"/><defs><linearGradient id="cb" x1="0" x2="1" y1="0" y2="0"><stop offset="0" stop-color="#ffffff"/><stop offset="0.3" stop-color="#c9dcdc"/><stop offset="0.62" stop-color="#6a7090"/><stop offset="0.85" stop-color="#1c1c2c"/><stop offset="1" stop-color="#000"/></linearGradient></defs><text x="19" y="502" font-size="34" text-anchor="start" fill="#000" font-weight="bold" font-family="Liberation Sans" textLength="21.5" lengthAdjust="spacingAndGlyphs" >B</text><text x="18.9" y="616.7" font-size="34" text-anchor="start" fill="#000" font-weight="bold" font-family="Liberation Sans" textLength="22.5" lengthAdjust="spacingAndGlyphs" >C</text><text x="54.5" y="543.5" font-family="Liberation Serif" font-style="italic" font-size="22" fill="#1e1e1e" textLength="15" lengthAdjust="spacingAndGlyphs">E</text><text x="70" y="547" font-family="Liberation Serif" font-style="italic" font-size="14" fill="#1e1e1e">i</text><path d="M82.5,532.3 H98.5 M82.5,538.6 H98.5" stroke="#1e1e1e" stroke-width="1.2"/><path d="M123,512.4 C108.5,527 108.5,549 123,563.8" fill="none" stroke="#1e1e1e" stroke-width="1.6"/><path d="M361.5,512.4 C348.8,527 348.8,549 361.5,563.8" fill="none" stroke="#1e1e1e" stroke-width="1.6"/><path d="M325,512.4 C340.2,527 340.2,549 325,563.8" fill="none" stroke="#1e1e1e" stroke-width="1.6"/><path d="M427,512.4 C440.5,527 440.5,549 427,563.8" fill="none" stroke="#1e1e1e" stroke-width="1.6"/><path d="M125,537.6 H323.5 M364.5,537.6 H424" stroke="#1e1e1e" stroke-width="1"/><text x="125" y="529.5" font-family="Liberation Serif" font-style="italic" font-size="20" fill="#1e1e1e" textLength="37" lengthAdjust="spacingAndGlyphs">max</text><text x="162.5" y="529.5" font-family="Liberation Serif" font-size="20" fill="#1e1e1e">(</text><text x="171" y="529.5" font-family="Liberation Serif" font-style="italic" font-size="20" fill="#1e1e1e" textLength="35" lengthAdjust="spacingAndGlyphs">min</text><text x="206.5" y="529.5" font-family="Liberation Serif" font-size="20" fill="#1e1e1e">(</text><text x="217" y="529.5" font-family="Liberation Serif" font-style="italic" font-size="21" fill="#1e1e1e">H</text><text x="236.5" y="522.0" font-family="Liberation Serif" font-size="15" fill="#1e1e1e">−</text><text x="251" y="529.5" font-family="Liberation Serif" font-size="20" fill="#1e1e1e" textLength="12" lengthAdjust="spacingAndGlyphs">),</text><text x="278" y="529.5" font-family="Liberation Serif" font-style="italic" font-size="21" fill="#1e1e1e">H</text><text x="297" y="522.0" font-family="Liberation Serif" font-size="15" fill="#1e1e1e">−</text><text x="295.5" y="534.5" font-family="Liberation Serif" font-style="italic" font-size="14" fill="#1e1e1e">i</text><text x="315" y="529.5" font-family="Liberation Serif" font-size="20" fill="#1e1e1e">)</text><text x="125" y="559.5" font-family="Liberation Serif" font-style="italic" font-size="20" fill="#1e1e1e" textLength="37" lengthAdjust="spacingAndGlyphs">max</text><text x="162.5" y="559.5" font-family="Liberation Serif" font-size="20" fill="#1e1e1e">(</text><text x="171" y="559.5" font-family="Liberation Serif" font-style="italic" font-size="20" fill="#1e1e1e" textLength="35" lengthAdjust="spacingAndGlyphs">min</text><text x="206.5" y="559.5" font-family="Liberation Serif" font-size="20" fill="#1e1e1e">(</text><text x="217" y="559.5" font-family="Liberation Serif" font-style="italic" font-size="21" fill="#1e1e1e">H</text><text x="236.5" y="552.0" font-family="Liberation Serif" font-size="15" fill="#1e1e1e">+</text><text x="251" y="559.5" font-family="Liberation Serif" font-size="20" fill="#1e1e1e" textLength="12" lengthAdjust="spacingAndGlyphs">),</text><text x="278" y="559.5" font-family="Liberation Serif" font-style="italic" font-size="21" fill="#1e1e1e">H</text><text x="297" y="552.0" font-family="Liberation Serif" font-size="15" fill="#1e1e1e">+</text><text x="295.5" y="564.5" font-family="Liberation Serif" font-style="italic" font-size="14" fill="#1e1e1e">i</text><text x="315" y="559.5" font-family="Liberation Serif" font-size="20" fill="#1e1e1e">)</text><text x="365.5" y="528.5" font-family="Liberation Serif" font-size="20" fill="#1e1e1e" textLength="13.5" lengthAdjust="spacingAndGlyphs">Σ</text><text x="381" y="531.5" font-family="Liberation Serif" font-style="italic" font-size="14" fill="#1e1e1e">i</text><text x="390" y="528.5" font-family="Liberation Serif" font-style="italic" font-size="21" fill="#1e1e1e">H</text><text x="409" y="521.0" font-family="Liberation Serif" font-size="15" fill="#1e1e1e">+</text><text x="407" y="533.5" font-family="Liberation Serif" font-style="italic" font-size="14" fill="#1e1e1e">i</text><text x="365.5" y="559.5" font-family="Liberation Serif" font-size="20" fill="#1e1e1e" textLength="13.5" lengthAdjust="spacingAndGlyphs">Σ</text><text x="381" y="562.5" font-family="Liberation Serif" font-style="italic" font-size="14" fill="#1e1e1e">i</text><text x="390" y="559.5" font-family="Liberation Serif" font-style="italic" font-size="21" fill="#1e1e1e">H</text><text x="409" y="552.0" font-family="Liberation Serif" font-size="15" fill="#1e1e1e">−</text><text x="407" y="564.5" font-family="Liberation Serif" font-style="italic" font-size="14" fill="#1e1e1e">i</text><rect x="72.6" y="648.2" width="37.7" height="37.7" fill="#121218" stroke="#444" stroke-width="0.9"/><rect x="110.3" y="648.2" width="37.7" height="37.7" fill="#050507" stroke="#444" stroke-width="0.9"/><rect x="148.0" y="648.2" width="37.7" height="37.7" fill="#15151c" stroke="#444" stroke-width="0.9"/><rect x="72.6" y="685.9000000000001" width="37.7" height="37.7" fill="#08080a" stroke="#444" stroke-width="0.9"/><rect x="110.3" y="685.9000000000001" width="37.7" height="37.7" fill="#646a85" stroke="#444" stroke-width="0.9"/><rect x="148.0" y="685.9000000000001" width="37.7" height="37.7" fill="#ffffff" stroke="#444" stroke-width="0.9"/><rect x="72.6" y="723.6" width="37.7" height="37.7" fill="#dce8e8" stroke="#444" stroke-width="0.9"/><rect x="110.3" y="723.6" width="37.7" height="37.7" fill="#e8f0f0" stroke="#444" stroke-width="0.9"/><rect x="148.0" y="723.6" width="37.7" height="37.7" fill="#c9dcdc" stroke="#444" stroke-width="0.9"/><rect x="72.6" y="648.2" width="113.1" height="113.1" fill="none" stroke="#222" stroke-width="1"/><rect x="73.4" y="762.8" width="113.3" height="3.9" fill="url(#cb)" stroke="#333" stroke-width="0.8"/><line x1="87.9" y1="766.6999999999999" x2="87.9" y2="771" stroke="#111" stroke-width="1.3"/><line x1="118.5" y1="766.6999999999999" x2="118.5" y2="771" stroke="#111" stroke-width="1.3"/><line x1="149" y1="766.6999999999999" x2="149" y2="771" stroke="#111" stroke-width="1.3"/><line x1="179.6" y1="766.6999999999999" x2="179.6" y2="771" stroke="#111" stroke-width="1.3"/><text x="116.7" y="596.3" font-size="17" text-anchor="start" fill="#111" font-weight="normal" font-family="Liberation Sans" textLength="27" lengthAdjust="spacingAndGlyphs" stroke="#111" stroke-width="0" >AD</text><path d="M0,0.3 H0.5 V0 L1,0.5 L0.5,1 V0.7 H0 Z" transform="matrix(0,42.7,-26.7,0,104.9,598.9)" fill="#7b5cc6" stroke="#1a1a1a" stroke-width="1.3" vector-effect="non-scaling-stroke"/><path d="M0,0.37 H0.42 L0.82,0 L1,0.21 L0.62,0.5 L1,0.79 L0.82,1 L0.42,0.63 H0 Z" transform="matrix(0,40.1,-29.3,0,144.20000000000002,601.5)" fill="#cc4b2b" stroke="#1a1a1a" stroke-width="1.3" vector-effect="non-scaling-stroke"/><path d="M0,0.37 H0.42 C0.5,0.15 0.7,0.02 1,0.0 V0.2 C0.78,0.22 0.62,0.35 0.62,0.5 C0.62,0.65 0.78,0.78 1,0.8 V1 C0.7,0.98 0.5,0.85 0.42,0.63 H0 Z" transform="matrix(0,42.6,-29.4,0,182.3,599)" fill="#ddd7f0" stroke="#1a1a1a" stroke-width="1.3" vector-effect="non-scaling-stroke"/><path d="M0,0.3 H0.5 V0 L1,0.5 L0.5,1 V0.7 H0 Z" transform="matrix(43.3,0,0,26.2,23.6,654)" fill="#7b5cc6" stroke="#1a1a1a" stroke-width="1.3" vector-effect="non-scaling-stroke"/><path d="M0,0.37 H0.42 L0.82,0 L1,0.21 L0.62,0.5 L1,0.79 L0.82,1 L0.42,0.63 H0 Z" transform="matrix(38.1,0,0,27.5,27.5,691.5)" fill="#cc4b2b" stroke="#1a1a1a" stroke-width="1.3" vector-effect="non-scaling-stroke"/><path d="M0,0.37 H0.42 C0.5,0.15 0.7,0.02 1,0.0 V0.2 C0.78,0.22 0.62,0.35 0.62,0.5 C0.62,0.65 0.78,0.78 1,0.8 V1 C0.7,0.98 0.5,0.85 0.42,0.63 H0 Z" transform="matrix(42.8,0,0,28.8,24.1,728.2)" fill="#ddd7f0" stroke="#1a1a1a" stroke-width="1.3" vector-effect="non-scaling-stroke"/><text x="19.7" y="725.6" font-size="17.5" fill="#111" font-family="Liberation Sans" transform="rotate(-90 19.7 725.6)" textLength="40.6" lengthAdjust="spacingAndGlyphs">DBD</text><text x="52.5" y="792.4" font-size="17.6" fill="#111" font-family="Liberation Sans" textLength="157" lengthAdjust="spacingAndGlyphs">Log<tspan font-size="13" dy="4">2</tspan><tspan dy="-4"> enrichment</tspan></text><text x="195.2" y="626.5" font-size="18" text-anchor="start" fill="#111" font-weight="normal" font-family="Liberation Sans" textLength="130" lengthAdjust="spacingAndGlyphs" stroke="#111" stroke-width="0" >Autoactivator</text><line x1="229.8" y1="632.9" x2="202" y2="653" stroke="#c0c0c0" stroke-width="6"/><polygon points="191,662 195.2,644 210.4,657.8" fill="#c0c0c0"/><text x="191" y="703.4" font-size="18" text-anchor="start" fill="#111" font-weight="normal" font-family="Liberation Sans" textLength="87.2" lengthAdjust="spacingAndGlyphs" stroke="#111" stroke-width="0" >Autotune</text><rect x="214.6" y="712" width="44" height="5" fill="#c0c0c0"/><polygon points="257.4,707.5 271.3,714.5 257.4,721.4" fill="#c0c0c0"/><rect x="331.3" y="646.7" width="38" height="38" fill="#fff"/><text x="337.8" y="676.7" font-size="32.7" font-weight="bold" fill="#820404" stroke="#820404" stroke-width="1.14" font-family="Liberation Sans" textLength="25.1" lengthAdjust="spacingAndGlyphs">X</text><rect x="331.3" y="646.7" width="38" height="38" fill="none" stroke="#444" stroke-width="0.9"/><rect x="369.3" y="646.7" width="38" height="38" fill="#000000" stroke="#444" stroke-width="0.9"/><rect x="407.3" y="646.7" width="38" height="38" fill="#d8e6e6" stroke="#444" stroke-width="0.9"/><rect x="331.3" y="684.7" width="38" height="38" fill="#000000" stroke="#444" stroke-width="0.9"/><rect x="369.3" y="684.7" width="38" height="38" fill="#636a86" stroke="#444" stroke-width="0.9"/><rect x="407.3" y="684.7" width="38" height="38" fill="#ffffff" stroke="#444" stroke-width="0.9"/><rect x="331.3" y="722.7" width="38" height="38" fill="#dce8e8" stroke="#444" stroke-width="0.9"/><rect x="369.3" y="722.7" width="38" height="38" fill="#e8f2f2" stroke="#444" stroke-width="0.9"/><rect x="407.3" y="722.7" width="38" height="38" fill="#c8dcdc" stroke="#444" stroke-width="0.9"/><rect x="331.3" y="646.7" width="114" height="114" fill="none" stroke="#222" stroke-width="1"/><rect x="331.8" y="762" width="113.5" height="4.5" fill="url(#cb)" stroke="#333" stroke-width="0.8"/><line x1="346" y1="766.5" x2="346" y2="770.3" stroke="#111" stroke-width="1.3"/><line x1="377" y1="766.5" x2="377" y2="770.3" stroke="#111" stroke-width="1.3"/><line x1="407.3" y1="766.5" x2="407.3" y2="770.3" stroke="#111" stroke-width="1.3"/><line x1="437.2" y1="766.5" x2="437.2" y2="770.3" stroke="#111" stroke-width="1.3"/><path d="M0,0.3 H0.5 V0 L1,0.5 L0.5,1 V0.7 H0 Z" transform="matrix(0,42,-26.2,0,362.5,600.5)" fill="#7b5cc6" stroke="#1a1a1a" stroke-width="1.3" vector-effect="non-scaling-stroke"/><path d="M0,0.37 H0.42 L0.82,0 L1,0.21 L0.62,0.5 L1,0.79 L0.82,1 L0.42,0.63 H0 Z" transform="matrix(0,38.5,-29.8,0,402.6,604)" fill="#cc4b2b" stroke="#1a1a1a" stroke-width="1.3" vector-effect="non-scaling-stroke"/><path d="M0,0.37 H0.42 C0.5,0.15 0.7,0.02 1,0.0 V0.2 C0.78,0.22 0.62,0.35 0.62,0.5 C0.62,0.65 0.78,0.78 1,0.8 V1 C0.7,0.98 0.5,0.85 0.42,0.63 H0 Z" transform="matrix(0,42,-29,0,440,600.5)" fill="#ddd7f0" stroke="#1a1a1a" stroke-width="1.3" vector-effect="non-scaling-stroke"/><path d="M0,0.3 H0.5 V0 L1,0.5 L0.5,1 V0.7 H0 Z" transform="matrix(42.8,0,0,26.3,281,652.2)" fill="#7b5cc6" stroke="#1a1a1a" stroke-width="1.3" vector-effect="non-scaling-stroke"/><path d="M0,0.37 H0.42 L0.82,0 L1,0.21 L0.62,0.5 L1,0.79 L0.82,1 L0.42,0.63 H0 Z" transform="matrix(38.8,0,0,29,285,688.2)" fill="#cc4b2b" stroke="#1a1a1a" stroke-width="1.3" vector-effect="non-scaling-stroke"/><path d="M0,0.37 H0.42 C0.5,0.15 0.7,0.02 1,0.0 V0.2 C0.78,0.22 0.62,0.35 0.62,0.5 C0.62,0.65 0.78,0.78 1,0.8 V1 C0.7,0.98 0.5,0.85 0.42,0.63 H0 Z" transform="matrix(42.8,0,0,28.4,281,727)" fill="#ddd7f0" stroke="#1a1a1a" stroke-width="1.3" vector-effect="non-scaling-stroke"/><text x="308.6" y="792.4" font-size="17.6" fill="#111" font-family="Liberation Sans" textLength="159" lengthAdjust="spacingAndGlyphs">Log<tspan font-size="13" dy="4">2</tspan><tspan dy="-4"> enrichment</tspan></text><polyline points="447,702.8 481,702.8" fill="none" stroke="#c0c0c0" stroke-width="4.5"/><polyline points="495,525.6 481,525.6 481,747 527,747" fill="none" stroke="#c0c0c0" stroke-width="4.8"/><polygon points="494,519 508.6,525.6 494,532.5" fill="#c0c0c0"/><polygon points="527,740 541,747 527,754" fill="#c0c0c0"/><text x="470.4" y="697" font-size="18" fill="#111" font-family="Liberation Sans" transform="rotate(-90 470.4 697)" textLength="152" lengthAdjust="spacingAndGlyphs">Psuedoreplicate</text><rect x="538.7" y="512.3" width="21.5" height="21.5" fill="#fff"/><text x="542.4" y="529.3" font-size="18.5" font-weight="bold" fill="#820404" stroke="#820404" stroke-width="0.65" font-family="Liberation Sans" textLength="14.2" lengthAdjust="spacingAndGlyphs">X</text><rect x="538.7" y="512.3" width="21.5" height="21.5" fill="none" stroke="#444" stroke-width="0.8"/><rect x="538.7" y="533.8" width="21.5" height="21.5" fill="#000000" stroke="#444" stroke-width="0.8"/><rect x="560.2" y="533.8" width="21.5" height="21.5" fill="#5f6580" stroke="#444" stroke-width="0.8"/><rect x="538.7" y="555.3" width="21.5" height="21.5" fill="#dde8e8" stroke="#444" stroke-width="0.8"/><rect x="560.2" y="555.3" width="21.5" height="21.5" fill="#ffffff" stroke="#444" stroke-width="0.8"/><rect x="581.7" y="555.3" width="21.5" height="21.5" fill="#c8dada" stroke="#444" stroke-width="0.8"/><rect x="562.3" y="488.0" width="21.5" height="21.5" fill="#fff"/><text x="566.0" y="505.0" font-size="18.5" font-weight="bold" fill="#820404" stroke="#820404" stroke-width="0.65" font-family="Liberation Sans" textLength="14.2" lengthAdjust="spacingAndGlyphs">X</text><rect x="562.3" y="488.0" width="21.5" height="21.5" fill="none" stroke="#444" stroke-width="0.8"/><rect x="583.8" y="488.0" width="21.5" height="21.5" fill="#000000" stroke="#444" stroke-width="0.8"/><rect x="605.3" y="488.0" width="21.5" height="21.5" fill="#e6eeee" stroke="#444" stroke-width="0.8"/><rect x="583.8" y="509.5" width="21.5" height="21.5" fill="#666d8a" stroke="#444" stroke-width="0.8"/><rect x="605.3" y="509.5" width="21.5" height="21.5" fill="#ffffff" stroke="#444" stroke-width="0.8"/><rect x="605.3" y="531.0" width="21.5" height="21.5" fill="#d8e3e3" stroke="#444" stroke-width="0.8"/><path d="M0,0.3 H0.5 V0 L1,0.5 L0.5,1 V0.7 H0 Z" transform="matrix(0,23.8,-15.2,0,581.0,462.4)" fill="#7b5cc6" stroke="#1a1a1a" stroke-width="1.3" vector-effect="non-scaling-stroke"/><path d="M0,0.37 H0.42 L0.82,0 L1,0.21 L0.62,0.5 L1,0.79 L0.82,1 L0.42,0.63 H0 Z" transform="matrix(0,23,-17,0,604,463.5)" fill="#cc4b2b" stroke="#1a1a1a" stroke-width="1.3" vector-effect="non-scaling-stroke"/><path d="M0,0.37 H0.42 C0.5,0.15 0.7,0.02 1,0.0 V0.2 C0.78,0.22 0.62,0.35 0.62,0.5 C0.62,0.65 0.78,0.78 1,0.8 V1 C0.7,0.98 0.5,0.85 0.42,0.63 H0 Z" transform="matrix(0,23.8,-16.3,0,625.0,462.4)" fill="#ddd7f0" stroke="#1a1a1a" stroke-width="1.3" vector-effect="non-scaling-stroke"/><path d="M0,0.3 H0.5 V0 L1,0.5 L0.5,1 V0.7 H0 Z" transform="matrix(-23.9,0,0,15,653.5,491)" fill="#7b5cc6" stroke="#1a1a1a" stroke-width="1.3" vector-effect="non-scaling-stroke"/><path d="M0,0.37 H0.42 L0.82,0 L1,0.21 L0.62,0.5 L1,0.79 L0.82,1 L0.42,0.63 H0 Z" transform="matrix(-22,0,0,16,651.6,511.3)" fill="#cc4b2b" stroke="#1a1a1a" stroke-width="1.3" vector-effect="non-scaling-stroke"/><path d="M0,0.37 H0.42 C0.5,0.15 0.7,0.02 1,0.0 V0.2 C0.78,0.22 0.62,0.35 0.62,0.5 C0.62,0.65 0.78,0.78 1,0.8 V1 C0.7,0.98 0.5,0.85 0.42,0.63 H0 Z" transform="matrix(-23.9,0,0,16.2,653.5,532)" fill="#ddd7f0" stroke="#1a1a1a" stroke-width="1.3" vector-effect="non-scaling-stroke"/><path d="M0,0.3 H0.5 V0 L1,0.5 L0.5,1 V0.7 H0 Z" transform="matrix(22.9,0,0,15,511.4,514)" fill="#7b5cc6" stroke="#1a1a1a" stroke-width="1.3" vector-effect="non-scaling-stroke"/><path d="M0,0.37 H0.42 L0.82,0 L1,0.21 L0.62,0.5 L1,0.79 L0.82,1 L0.42,0.63 H0 Z" transform="matrix(21.3,0,0,14.7,513,535.5)" fill="#cc4b2b" stroke="#1a1a1a" stroke-width="1.3" vector-effect="non-scaling-stroke"/><path d="M0,0.37 H0.42 C0.5,0.15 0.7,0.02 1,0.0 V0.2 C0.78,0.22 0.62,0.35 0.62,0.5 C0.62,0.65 0.78,0.78 1,0.8 V1 C0.7,0.98 0.5,0.85 0.42,0.63 H0 Z" transform="matrix(22.9,0,0,16.3,511.4,555.8)" fill="#ddd7f0" stroke="#1a1a1a" stroke-width="1.3" vector-effect="non-scaling-stroke"/><path d="M0,0.3 H0.5 V0 L1,0.5 L0.5,1 V0.7 H0 Z" transform="matrix(0,-23.6,15,0,542,601.6)" fill="#7b5cc6" stroke="#1a1a1a" stroke-width="1.3" vector-effect="non-scaling-stroke"/><path d="M0,0.37 H0.42 L0.82,0 L1,0.21 L0.62,0.5 L1,0.79 L0.82,1 L0.42,0.63 H0 Z" transform="matrix(0,-22.5,16,0,563.7,601.0)" fill="#cc4b2b" stroke="#1a1a1a" stroke-width="1.3" vector-effect="non-scaling-stroke"/><path d="M0,0.37 H0.42 C0.5,0.15 0.7,0.02 1,0.0 V0.2 C0.78,0.22 0.62,0.35 0.62,0.5 C0.62,0.65 0.78,0.78 1,0.8 V1 C0.7,0.98 0.5,0.85 0.42,0.63 H0 Z" transform="matrix(0,-23.6,16.3,0,584.5,601.6)" fill="#ddd7f0" stroke="#1a1a1a" stroke-width="1.3" vector-effect="non-scaling-stroke"/><text x="719" y="527" font-size="18" text-anchor="middle" fill="#111" font-weight="normal" font-family="Liberation Sans" textLength="89" lengthAdjust="spacingAndGlyphs" stroke="#111" stroke-width="0" >Autotune</text><text x="719.7" y="547" font-size="18" text-anchor="middle" fill="#111" font-weight="normal" font-family="Liberation Sans" textLength="119.8" lengthAdjust="spacingAndGlyphs" stroke="#111" stroke-width="0" >homodimers</text><rect x="685" y="553.5" width="45" height="5" fill="#c0c0c0"/><polygon points="729,548 743,556 729,563.5" fill="#c0c0c0"/><path d="M823,425.5 H837.6 M830.3,418.5 V432.5" stroke="#8dc040" stroke-width="2.3"/><text x="847.8" y="431.8" font-size="18" text-anchor="start" fill="#111" font-weight="normal" font-family="Liberation Sans" textLength="29.8" lengthAdjust="spacingAndGlyphs" stroke="#111" stroke-width="0" >HIS</text><text x="825" y="453.3" font-size="18" text-anchor="start" fill="#111" font-weight="normal" font-family="Liberation Sans" textLength="61.6" lengthAdjust="spacingAndGlyphs" stroke="#111" stroke-width="0" >counts</text><rect x="791.5" y="443.2" width="24.1" height="24.1" fill="#fdc27c" stroke="#222" stroke-width="0.8"/><rect x="791.5" y="467.3" width="24.1" height="24.1" fill="#fcae72" stroke="#222" stroke-width="0.8"/><rect x="815.6" y="467.3" width="24.1" height="24.1" fill="#fdc27c" stroke="#222" stroke-width="0.8"/><rect x="791.5" y="491.4" width="24.1" height="24.1" fill="#fcae72" stroke="#222" stroke-width="0.8"/><rect x="815.6" y="491.4" width="24.1" height="24.1" fill="#000000" stroke="#222" stroke-width="0.8"/><rect x="839.7" y="491.4" width="24.1" height="24.1" fill="#fdc27c" stroke="#222" stroke-width="0.8"/><rect x="787.9" y="439.6" width="24.1" height="24.1" fill="#fdc27c" stroke="#222" stroke-width="0.8"/><rect x="787.9" y="463.70000000000005" width="24.1" height="24.1" fill="#fcae72" stroke="#222" stroke-width="0.8"/><rect x="812.0" y="463.70000000000005" width="24.1" height="24.1" fill="#fdc27c" stroke="#222" stroke-width="0.8"/><rect x="787.9" y="487.8" width="24.1" height="24.1" fill="#fcae72" stroke="#222" stroke-width="0.8"/><rect x="812.0" y="487.8" width="24.1" height="24.1" fill="#000000" stroke="#222" stroke-width="0.8"/><rect x="836.1" y="487.8" width="24.1" height="24.1" fill="#fdc27c" stroke="#222" stroke-width="0.8"/><rect x="784.3" y="436.0" width="24.1" height="24.1" fill="#fff"/><text x="788.4" y="455.0" font-size="20.7" font-weight="bold" fill="#820404" stroke="#820404" stroke-width="0.72" font-family="Liberation Sans" textLength="15.9" lengthAdjust="spacingAndGlyphs">X</text><rect x="784.3" y="436.0" width="24.1" height="24.1" fill="none" stroke="#555" stroke-width="0.8"/><rect x="784.3" y="460.1" width="24.1" height="24.1" fill="#fcae72" stroke="#222" stroke-width="0.8"/><rect x="808.4" y="460.1" width="24.1" height="24.1" fill="#fdc27c" stroke="#222" stroke-width="0.8"/><rect x="784.3" y="484.2" width="24.1" height="24.1" fill="#fcae72" stroke="#222" stroke-width="0.8"/><rect x="808.4" y="484.2" width="24.1" height="24.1" fill="#000000" stroke="#222" stroke-width="0.8"/><rect x="832.5" y="484.2" width="24.1" height="24.1" fill="#fdc27c" stroke="#222" stroke-width="0.8"/><rect x="795.6" y="475.3" width="23.8" height="23.8" fill="#fdc27c" stroke="#222" stroke-width="0.8"/><rect x="795.6" y="499.1" width="23.8" height="23.8" fill="#fcae72" stroke="#222" stroke-width="0.8"/><rect x="819.4" y="499.1" width="23.8" height="23.8" fill="#fdc27c" stroke="#222" stroke-width="0.8"/><rect x="795.6" y="522.9" width="23.8" height="23.8" fill="#fcae72" stroke="#222" stroke-width="0.8"/><rect x="819.4" y="522.9" width="23.8" height="23.8" fill="#000000" stroke="#222" stroke-width="0.8"/><rect x="843.2" y="522.9" width="23.8" height="23.8" fill="#fdc27c" stroke="#222" stroke-width="0.8"/><rect x="792.0" y="471.70000000000005" width="23.8" height="23.8" fill="#fdc27c" stroke="#222" stroke-width="0.8"/><rect x="792.0" y="495.50000000000006" width="23.8" height="23.8" fill="#fcae72" stroke="#222" stroke-width="0.8"/><rect x="815.8" y="495.50000000000006" width="23.8" height="23.8" fill="#fdc27c" stroke="#222" stroke-width="0.8"/><rect x="792.0" y="519.3000000000001" width="23.8" height="23.8" fill="#fcae72" stroke="#222" stroke-width="0.8"/><rect x="815.8" y="519.3000000000001" width="23.8" height="23.8" fill="#000000" stroke="#222" stroke-width="0.8"/><rect x="839.6" y="519.3000000000001" width="23.8" height="23.8" fill="#fdc27c" stroke="#222" stroke-width="0.8"/><rect x="788.4" y="468.1" width="23.8" height="23.8" fill="#fff"/><text x="792.4" y="486.9" font-size="20.5" font-weight="bold" fill="#820404" stroke="#820404" stroke-width="0.71" font-family="Liberation Sans" textLength="15.7" lengthAdjust="spacingAndGlyphs">X</text><rect x="788.4" y="468.1" width="23.8" height="23.8" fill="none" stroke="#555" stroke-width="0.8"/><rect x="788.4" y="491.90000000000003" width="23.8" height="23.8" fill="#fcae72" stroke="#222" stroke-width="0.8"/><rect x="812.1999999999999" y="491.90000000000003" width="23.8" height="23.8" fill="#fdc27c" stroke="#222" stroke-width="0.8"/><rect x="788.4" y="515.7" width="23.8" height="23.8" fill="#fcae72" stroke="#222" stroke-width="0.8"/><rect x="812.1999999999999" y="515.7" width="23.8" height="23.8" fill="#000000" stroke="#222" stroke-width="0.8"/><rect x="836.0" y="515.7" width="23.8" height="23.8" fill="#fdc27c" stroke="#222" stroke-width="0.8"/><rect x="825" y="557.3" width="16.3" height="2.6" fill="#a83232"/><text x="850.4" y="564.2" font-size="18" text-anchor="start" fill="#111" font-weight="normal" font-family="Liberation Sans" textLength="30.8" lengthAdjust="spacingAndGlyphs" stroke="#111" stroke-width="0" >HIS</text><text x="825" y="584" font-size="18" text-anchor="start" fill="#111" font-weight="normal" font-family="Liberation Sans" textLength="61.6" lengthAdjust="spacingAndGlyphs" stroke="#111" stroke-width="0" >counts</text><rect x="791.5" y="574.0" width="24.1" height="24.1" fill="#fdc27c" stroke="#222" stroke-width="0.8"/><rect x="791.5" y="598.1" width="24.1" height="24.1" fill="#000000" stroke="#222" stroke-width="0.8"/><rect x="815.6" y="598.1" width="24.1" height="24.1" fill="#fdc27c" stroke="#222" stroke-width="0.8"/><rect x="791.5" y="622.2" width="24.1" height="24.1" fill="#fdc27c" stroke="#222" stroke-width="0.8"/><rect x="815.6" y="622.2" width="24.1" height="24.1" fill="#fdc27c" stroke="#222" stroke-width="0.8"/><rect x="839.7" y="622.2" width="24.1" height="24.1" fill="#fdc27c" stroke="#222" stroke-width="0.8"/><rect x="787.9" y="570.4" width="24.1" height="24.1" fill="#fdc27c" stroke="#222" stroke-width="0.8"/><rect x="787.9" y="594.5" width="24.1" height="24.1" fill="#000000" stroke="#222" stroke-width="0.8"/><rect x="812.0" y="594.5" width="24.1" height="24.1" fill="#fdc27c" stroke="#222" stroke-width="0.8"/><rect x="787.9" y="618.6" width="24.1" height="24.1" fill="#fdc27c" stroke="#222" stroke-width="0.8"/><rect x="812.0" y="618.6" width="24.1" height="24.1" fill="#fdc27c" stroke="#222" stroke-width="0.8"/><rect x="836.1" y="618.6" width="24.1" height="24.1" fill="#fdc27c" stroke="#222" stroke-width="0.8"/><rect x="784.3" y="566.8" width="24.1" height="24.1" fill="#fff"/><text x="788.4" y="585.8" font-size="20.7" font-weight="bold" fill="#820404" stroke="#820404" stroke-width="0.72" font-family="Liberation Sans" textLength="15.9" lengthAdjust="spacingAndGlyphs">X</text><rect x="784.3" y="566.8" width="24.1" height="24.1" fill="none" stroke="#555" stroke-width="0.8"/><rect x="784.3" y="590.9" width="24.1" height="24.1" fill="#000000" stroke="#222" stroke-width="0.8"/><rect x="808.4" y="590.9" width="24.1" height="24.1" fill="#fdc27c" stroke="#222" stroke-width="0.8"/><rect x="784.3" y="615.0" width="24.1" height="24.1" fill="#fdc27c" stroke="#222" stroke-width="0.8"/><rect x="808.4" y="615.0" width="24.1" height="24.1" fill="#fdc27c" stroke="#222" stroke-width="0.8"/><rect x="832.5" y="615.0" width="24.1" height="24.1" fill="#fdc27c" stroke="#222" stroke-width="0.8"/><rect x="795.6" y="605.2" width="23.8" height="23.8" fill="#fdc27c" stroke="#222" stroke-width="0.8"/><rect x="795.6" y="629.0" width="23.8" height="23.8" fill="#000000" stroke="#222" stroke-width="0.8"/><rect x="819.4" y="629.0" width="23.8" height="23.8" fill="#fdc27c" stroke="#222" stroke-width="0.8"/><rect x="795.6" y="652.8000000000001" width="23.8" height="23.8" fill="#fdc27c" stroke="#222" stroke-width="0.8"/><rect x="819.4" y="652.8000000000001" width="23.8" height="23.8" fill="#fdc27c" stroke="#222" stroke-width="0.8"/><rect x="843.2" y="652.8000000000001" width="23.8" height="23.8" fill="#fdc27c" stroke="#222" stroke-width="0.8"/><rect x="792.0" y="601.6" width="23.8" height="23.8" fill="#fdc27c" stroke="#222" stroke-width="0.8"/><rect x="792.0" y="625.4" width="23.8" height="23.8" fill="#000000" stroke="#222" stroke-width="0.8"/><rect x="815.8" y="625.4" width="23.8" height="23.8" fill="#fdc27c" stroke="#222" stroke-width="0.8"/><rect x="792.0" y="649.2" width="23.8" height="23.8" fill="#fdc27c" stroke="#222" stroke-width="0.8"/><rect x="815.8" y="649.2" width="23.8" height="23.8" fill="#fdc27c" stroke="#222" stroke-width="0.8"/><rect x="839.6" y="649.2" width="23.8" height="23.8" fill="#fdc27c" stroke="#222" stroke-width="0.8"/><rect x="788.4" y="598.0" width="23.8" height="23.8" fill="#fff"/><text x="792.4" y="616.8" font-size="20.5" font-weight="bold" fill="#820404" stroke="#820404" stroke-width="0.71" font-family="Liberation Sans" textLength="15.7" lengthAdjust="spacingAndGlyphs">X</text><rect x="788.4" y="598.0" width="23.8" height="23.8" fill="none" stroke="#555" stroke-width="0.8"/><rect x="788.4" y="621.8" width="23.8" height="23.8" fill="#000000" stroke="#222" stroke-width="0.8"/><rect x="812.1999999999999" y="621.8" width="23.8" height="23.8" fill="#fdc27c" stroke="#222" stroke-width="0.8"/><rect x="788.4" y="645.6" width="23.8" height="23.8" fill="#fdc27c" stroke="#222" stroke-width="0.8"/><rect x="812.1999999999999" y="645.6" width="23.8" height="23.8" fill="#fdc27c" stroke="#222" stroke-width="0.8"/><rect x="836.0" y="645.6" width="23.8" height="23.8" fill="#fdc27c" stroke="#222" stroke-width="0.8"/><text x="886.6" y="542.3" font-size="18" text-anchor="start" fill="#111" font-weight="normal" font-family="Liberation Sans" textLength="72.4" lengthAdjust="spacingAndGlyphs" stroke="#111" stroke-width="0" >DESeq2</text><rect x="894" y="553" width="43" height="5" fill="#c0c0c0"/><polygon points="936,548 950,555.5 936,563" fill="#c0c0c0"/><rect x="1009.4" y="471.3" width="38" height="38" fill="#ffffff" stroke="#444" stroke-width="0.9"/><text x="1020.4" y="500.6" font-size="28.5" font-weight="bold" fill="#f4f8f8" stroke="#1a1a1a" stroke-width="3.4" font-family="Liberation Sans" paint-order="stroke" textLength="16.3" lengthAdjust="spacingAndGlyphs">2</text><text x="1020.4" y="500.6" font-size="28.5" font-weight="bold" fill="#f4f8f8" font-family="Liberation Sans" textLength="16.3" lengthAdjust="spacingAndGlyphs">2</text><rect x="1009.4" y="509.3" width="38" height="38" fill="#000000" stroke="#444" stroke-width="0.9"/><rect x="1047.4" y="509.3" width="38" height="38" fill="#636a85" stroke="#444" stroke-width="0.9"/><rect x="1009.4" y="547.3" width="38" height="38" fill="#e8f0f0" stroke="#444" stroke-width="0.9"/><rect x="1047.4" y="547.3" width="38" height="38" fill="#ffffff" stroke="#444" stroke-width="0.9"/><rect x="1085.4" y="547.3" width="38" height="38" fill="#d8e6e6" stroke="#444" stroke-width="0.9"/><path d="M0,0.3 H0.5 V0 L1,0.5 L0.5,1 V0.7 H0 Z" transform="matrix(0,33.4,-21,0,1041,434.3)" fill="#7b5cc6" stroke="#1a1a1a" stroke-width="1.3" vector-effect="non-scaling-stroke"/><path d="M0,0.37 H0.42 L0.82,0 L1,0.21 L0.62,0.5 L1,0.79 L0.82,1 L0.42,0.63 H0 Z" transform="matrix(0,30.5,-22.7,0,1081.0,437)" fill="#cc4b2b" stroke="#1a1a1a" stroke-width="1.3" vector-effect="non-scaling-stroke"/><path d="M0,0.37 H0.42 C0.5,0.15 0.7,0.02 1,0.0 V0.2 C0.78,0.22 0.62,0.35 0.62,0.5 C0.62,0.65 0.78,0.78 1,0.8 V1 C0.7,0.98 0.5,0.85 0.42,0.63 H0 Z" transform="matrix(0,32.3,-22.5,0,1119.0,434.3)" fill="#ddd7f0" stroke="#1a1a1a" stroke-width="1.3" vector-effect="non-scaling-stroke"/><path d="M0,0.3 H0.5 V0 L1,0.5 L0.5,1 V0.7 H0 Z" transform="matrix(33.3,0,0,20.2,967.7,480.8)" fill="#7b5cc6" stroke="#1a1a1a" stroke-width="1.3" vector-effect="non-scaling-stroke"/><path d="M0,0.37 H0.42 L0.82,0 L1,0.21 L0.62,0.5 L1,0.79 L0.82,1 L0.42,0.63 H0 Z" transform="matrix(30.2,0,0,22.6,970.8,519)" fill="#cc4b2b" stroke="#1a1a1a" stroke-width="1.3" vector-effect="non-scaling-stroke"/><path d="M0,0.37 H0.42 C0.5,0.15 0.7,0.02 1,0.0 V0.2 C0.78,0.22 0.62,0.35 0.62,0.5 C0.62,0.65 0.78,0.78 1,0.8 V1 C0.7,0.98 0.5,0.85 0.42,0.63 H0 Z" transform="matrix(33.3,0,0,22.2,967.7,557)" fill="#ddd7f0" stroke="#1a1a1a" stroke-width="1.3" vector-effect="non-scaling-stroke"/><rect x="1011.4" y="588.8" width="112.9" height="4" fill="url(#cb)" stroke="#333" stroke-width="0.8"/><line x1="1025.7" y1="592.8" x2="1025.7" y2="597.6" stroke="#111" stroke-width="1.3"/><line x1="1055.5" y1="592.8" x2="1055.5" y2="597.6" stroke="#111" stroke-width="1.3"/><line x1="1085.7" y1="592.8" x2="1085.7" y2="597.6" stroke="#111" stroke-width="1.3"/><line x1="1116.2" y1="592.8" x2="1116.2" y2="597.6" stroke="#111" stroke-width="1.3"/><text x="1051" y="616.7" font-size="18" text-anchor="start" fill="#111" font-weight="normal" font-family="Liberation Sans" textLength="33.5" lengthAdjust="spacingAndGlyphs" stroke="#111" stroke-width="0" >LFC</text><path d="M565.7,647 H581 M573.3,639.5 V654.7" stroke="#8dc040" stroke-width="2.5"/><text x="591.3" y="654.7" font-size="18" text-anchor="start" fill="#111" font-weight="normal" font-family="Liberation Sans" textLength="30.5" lengthAdjust="spacingAndGlyphs" stroke="#111" stroke-width="0" >HIS</text><text x="564.7" y="675.6" font-size="18" text-anchor="start" fill="#111" font-weight="normal" font-family="Liberation Sans" textLength="62.8" lengthAdjust="spacingAndGlyphs" stroke="#111" stroke-width="0" >counts</text><rect x="666.4" y="647" width="17.2" height="2.6" fill="#a83232"/><text x="692" y="654.7" font-size="18" text-anchor="start" fill="#111" font-weight="normal" font-family="Liberation Sans" textLength="30.5" lengthAdjust="spacingAndGlyphs" stroke="#111" stroke-width="0" >HIS</text><text x="665.5" y="675.6" font-size="18" text-anchor="start" fill="#111" font-weight="normal" font-family="Liberation Sans" textLength="63.5" lengthAdjust="spacingAndGlyphs" stroke="#111" stroke-width="0" >counts</text><rect x="562.2" y="694.3000000000001" width="25.55" height="25.55" fill="#fdc27c" stroke="#222" stroke-width="0.8"/><rect x="587.75" y="694.3000000000001" width="25.55" height="25.55" fill="#fcae72" stroke="#222" stroke-width="0.8"/><rect x="613.3000000000001" y="694.3000000000001" width="25.55" height="25.55" fill="#fcae72" stroke="#222" stroke-width="0.8"/><rect x="562.2" y="719.85" width="25.55" height="25.55" fill="#fcae72" stroke="#222" stroke-width="0.8"/><rect x="587.75" y="719.85" width="25.55" height="25.55" fill="#fdc27c" stroke="#222" stroke-width="0.8"/><rect x="613.3000000000001" y="719.85" width="25.55" height="25.55" fill="#000000" stroke="#222" stroke-width="0.8"/><rect x="562.2" y="745.4000000000001" width="25.55" height="25.55" fill="#fba062" stroke="#222" stroke-width="0.8"/><rect x="587.75" y="745.4000000000001" width="25.55" height="25.55" fill="#4a2917" stroke="#222" stroke-width="0.8"/><rect x="613.3000000000001" y="745.4000000000001" width="25.55" height="25.55" fill="#fcae72" stroke="#222" stroke-width="0.8"/><rect x="558.4" y="690.5" width="25.55" height="25.55" fill="#fdc27c" stroke="#222" stroke-width="0.8"/><rect x="583.9499999999999" y="690.5" width="25.55" height="25.55" fill="#fcae72" stroke="#222" stroke-width="0.8"/><rect x="609.5" y="690.5" width="25.55" height="25.55" fill="#fcae72" stroke="#222" stroke-width="0.8"/><rect x="558.4" y="716.05" width="25.55" height="25.55" fill="#fcae72" stroke="#222" stroke-width="0.8"/><rect x="583.9499999999999" y="716.05" width="25.55" height="25.55" fill="#fdc27c" stroke="#222" stroke-width="0.8"/><rect x="609.5" y="716.05" width="25.55" height="25.55" fill="#000000" stroke="#222" stroke-width="0.8"/><rect x="558.4" y="741.6" width="25.55" height="25.55" fill="#fba062" stroke="#222" stroke-width="0.8"/><rect x="583.9499999999999" y="741.6" width="25.55" height="25.55" fill="#4a2917" stroke="#222" stroke-width="0.8"/><rect x="609.5" y="741.6" width="25.55" height="25.55" fill="#fcae72" stroke="#222" stroke-width="0.8"/><rect x="554.6" y="686.7" width="25.55" height="25.55" fill="#fff"/><text x="558.9" y="706.9" font-size="22.0" font-weight="bold" fill="#820404" stroke="#820404" stroke-width="0.77" font-family="Liberation Sans" textLength="16.9" lengthAdjust="spacingAndGlyphs">X</text><rect x="554.6" y="686.7" width="25.55" height="25.55" fill="none" stroke="#555" stroke-width="0.8"/><rect x="580.15" y="686.7" width="25.55" height="25.55" fill="#fcae72" stroke="#222" stroke-width="0.8"/><rect x="605.7" y="686.7" width="25.55" height="25.55" fill="#fcae72" stroke="#222" stroke-width="0.8"/><rect x="554.6" y="712.25" width="25.55" height="25.55" fill="#fcae72" stroke="#222" stroke-width="0.8"/><rect x="580.15" y="712.25" width="25.55" height="25.55" fill="#fdc27c" stroke="#222" stroke-width="0.8"/><rect x="605.7" y="712.25" width="25.55" height="25.55" fill="#000000" stroke="#222" stroke-width="0.8"/><rect x="554.6" y="737.8000000000001" width="25.55" height="25.55" fill="#fba062" stroke="#222" stroke-width="0.8"/><rect x="580.15" y="737.8000000000001" width="25.55" height="25.55" fill="#4a2917" stroke="#222" stroke-width="0.8"/><rect x="605.7" y="737.8000000000001" width="25.55" height="25.55" fill="#fcae72" stroke="#222" stroke-width="0.8"/><rect x="665.1" y="694.1" width="26.1" height="26.1" fill="#fdc27c" stroke="#222" stroke-width="0.8"/><rect x="691.2" y="694.1" width="26.1" height="26.1" fill="#000000" stroke="#222" stroke-width="0.8"/><rect x="717.3000000000001" y="694.1" width="26.1" height="26.1" fill="#fdc27c" stroke="#222" stroke-width="0.8"/><rect x="665.1" y="720.2" width="26.1" height="26.1" fill="#4a2917" stroke="#222" stroke-width="0.8"/><rect x="691.2" y="720.2" width="26.1" height="26.1" fill="#fdc27c" stroke="#222" stroke-width="0.8"/><rect x="717.3000000000001" y="720.2" width="26.1" height="26.1" fill="#fdc27c" stroke="#222" stroke-width="0.8"/><rect x="665.1" y="746.3000000000001" width="26.1" height="26.1" fill="#fdc27c" stroke="#222" stroke-width="0.8"/><rect x="691.2" y="746.3000000000001" width="26.1" height="26.1" fill="#fdc27c" stroke="#222" stroke-width="0.8"/><rect x="717.3000000000001" y="746.3000000000001" width="26.1" height="26.1" fill="#fdc27c" stroke="#222" stroke-width="0.8"/><rect x="661.3" y="690.3" width="26.1" height="26.1" fill="#fdc27c" stroke="#222" stroke-width="0.8"/><rect x="687.4" y="690.3" width="26.1" height="26.1" fill="#000000" stroke="#222" stroke-width="0.8"/><rect x="713.5" y="690.3" width="26.1" height="26.1" fill="#fdc27c" stroke="#222" stroke-width="0.8"/><rect x="661.3" y="716.4" width="26.1" height="26.1" fill="#4a2917" stroke="#222" stroke-width="0.8"/><rect x="687.4" y="716.4" width="26.1" height="26.1" fill="#fdc27c" stroke="#222" stroke-width="0.8"/><rect x="713.5" y="716.4" width="26.1" height="26.1" fill="#fdc27c" stroke="#222" stroke-width="0.8"/><rect x="661.3" y="742.5" width="26.1" height="26.1" fill="#fdc27c" stroke="#222" stroke-width="0.8"/><rect x="687.4" y="742.5" width="26.1" height="26.1" fill="#fdc27c" stroke="#222" stroke-width="0.8"/><rect x="713.5" y="742.5" width="26.1" height="26.1" fill="#fdc27c" stroke="#222" stroke-width="0.8"/><rect x="657.5" y="686.5" width="26.1" height="26.1" fill="#fff"/><text x="661.9" y="707.1" font-size="22.4" font-weight="bold" fill="#820404" stroke="#820404" stroke-width="0.78" font-family="Liberation Sans" textLength="17.2" lengthAdjust="spacingAndGlyphs">X</text><rect x="657.5" y="686.5" width="26.1" height="26.1" fill="none" stroke="#555" stroke-width="0.8"/><rect x="683.6" y="686.5" width="26.1" height="26.1" fill="#000000" stroke="#222" stroke-width="0.8"/><rect x="709.7" y="686.5" width="26.1" height="26.1" fill="#fdc27c" stroke="#222" stroke-width="0.8"/><rect x="657.5" y="712.6" width="26.1" height="26.1" fill="#4a2917" stroke="#222" stroke-width="0.8"/><rect x="683.6" y="712.6" width="26.1" height="26.1" fill="#fdc27c" stroke="#222" stroke-width="0.8"/><rect x="709.7" y="712.6" width="26.1" height="26.1" fill="#fdc27c" stroke="#222" stroke-width="0.8"/><rect x="657.5" y="738.7" width="26.1" height="26.1" fill="#fdc27c" stroke="#222" stroke-width="0.8"/><rect x="683.6" y="738.7" width="26.1" height="26.1" fill="#fdc27c" stroke="#222" stroke-width="0.8"/><rect x="709.7" y="738.7" width="26.1" height="26.1" fill="#fdc27c" stroke="#222" stroke-width="0.8"/><text x="822.3" y="736" font-size="18" text-anchor="start" fill="#111" font-weight="normal" font-family="Liberation Sans" textLength="74.1" lengthAdjust="spacingAndGlyphs" stroke="#111" stroke-width="0" >DESeq2</text><rect x="753.8" y="744" width="181" height="5" fill="#c0c0c0"/><polygon points="933,738.5 947.8,746.4 933,754" fill="#c0c0c0"/><rect x="1010.6" y="682.6" width="37.93" height="37.93" fill="#e8f0f0" stroke="#444" stroke-width="0.9"/><text x="1021.6" y="711.8" font-size="28.4" font-weight="bold" fill="#f4f8f8" stroke="#1a1a1a" stroke-width="3.4" font-family="Liberation Sans" paint-order="stroke" textLength="16.3" lengthAdjust="spacingAndGlyphs">2</text><text x="1021.6" y="711.8" font-size="28.4" font-weight="bold" fill="#f4f8f8" font-family="Liberation Sans" textLength="16.3" lengthAdjust="spacingAndGlyphs">2</text><rect x="1048.53" y="682.6" width="37.93" height="37.93" fill="#000000" stroke="#444" stroke-width="0.9"/><rect x="1086.46" y="682.6" width="37.93" height="37.93" fill="#dde8e8" stroke="#444" stroke-width="0.9"/><rect x="1010.6" y="720.53" width="37.93" height="37.93" fill="#000000" stroke="#444" stroke-width="0.9"/><rect x="1048.53" y="720.53" width="37.93" height="37.93" fill="#b4cdd0" stroke="#444" stroke-width="0.9"/><rect x="1086.46" y="720.53" width="37.93" height="37.93" fill="#ffffff" stroke="#444" stroke-width="0.9"/><rect x="1010.6" y="758.46" width="37.93" height="37.93" fill="#dce8e8" stroke="#444" stroke-width="0.9"/><rect x="1048.53" y="758.46" width="37.93" height="37.93" fill="#e8f2f0" stroke="#444" stroke-width="0.9"/><rect x="1086.46" y="758.46" width="37.93" height="37.93" fill="#c8dcdc" stroke="#444" stroke-width="0.9"/><rect x="1010.6" y="682.6" width="113.8" height="113.8" fill="none" stroke="#333" stroke-width="1"/><text x="1054.4" y="643.5" font-size="17" text-anchor="start" fill="#111" font-weight="normal" font-family="Liberation Sans" textLength="27.4" lengthAdjust="spacingAndGlyphs" stroke="#111" stroke-width="0" >AD</text><path d="M0,0.3 H0.5 V0 L1,0.5 L0.5,1 V0.7 H0 Z" transform="matrix(0,33.9,-21,0,1040,644.8)" fill="#7b5cc6" stroke="#1a1a1a" stroke-width="1.3" vector-effect="non-scaling-stroke"/><path d="M0,0.37 H0.42 L0.82,0 L1,0.21 L0.62,0.5 L1,0.79 L0.82,1 L0.42,0.63 H0 Z" transform="matrix(0,30.7,-23.5,0,1080.0,648)" fill="#cc4b2b" stroke="#1a1a1a" stroke-width="1.3" vector-effect="non-scaling-stroke"/><path d="M0,0.37 H0.42 C0.5,0.15 0.7,0.02 1,0.0 V0.2 C0.78,0.22 0.62,0.35 0.62,0.5 C0.62,0.65 0.78,0.78 1,0.8 V1 C0.7,0.98 0.5,0.85 0.42,0.63 H0 Z" transform="matrix(0,33.9,-23.5,0,1118.4,644.8)" fill="#ddd7f0" stroke="#1a1a1a" stroke-width="1.3" vector-effect="non-scaling-stroke"/><path d="M0,0.3 H0.5 V0 L1,0.5 L0.5,1 V0.7 H0 Z" transform="matrix(33.4,0,0,20,972,690)" fill="#7b5cc6" stroke="#1a1a1a" stroke-width="1.3" vector-effect="non-scaling-stroke"/><path d="M0,0.37 H0.42 L0.82,0 L1,0.21 L0.62,0.5 L1,0.79 L0.82,1 L0.42,0.63 H0 Z" transform="matrix(30.4,0,0,23.5,975,727)" fill="#cc4b2b" stroke="#1a1a1a" stroke-width="1.3" vector-effect="non-scaling-stroke"/><path d="M0,0.37 H0.42 C0.5,0.15 0.7,0.02 1,0.0 V0.2 C0.78,0.22 0.62,0.35 0.62,0.5 C0.62,0.65 0.78,0.78 1,0.8 V1 C0.7,0.98 0.5,0.85 0.42,0.63 H0 Z" transform="matrix(34.4,0,0,22.2,971,766)" fill="#ddd7f0" stroke="#1a1a1a" stroke-width="1.3" vector-effect="non-scaling-stroke"/><rect x="1010.6" y="798.8" width="113.8" height="3.3" fill="url(#cb)" stroke="#333" stroke-width="0.8"/><line x1="1025" y1="802.0999999999999" x2="1025" y2="806.6" stroke="#111" stroke-width="1.3"/><line x1="1055.2" y1="802.0999999999999" x2="1055.2" y2="806.6" stroke="#111" stroke-width="1.3"/><line x1="1085.2" y1="802.0999999999999" x2="1085.2" y2="806.6" stroke="#111" stroke-width="1.3"/><line x1="1115.8" y1="802.0999999999999" x2="1115.8" y2="806.6" stroke="#111" stroke-width="1.3"/><text x="1040.9" y="827.5" font-size="18" text-anchor="start" fill="#111" font-weight="normal" font-family="Liberation Sans" textLength="51.4" lengthAdjust="spacingAndGlyphs" stroke="#111" stroke-width="0" >P-LFC</text><text x="964.4" y="759.6" font-size="17.5" fill="#111" font-family="Liberation Sans" transform="rotate(-90 964.4 759.6)" textLength="40.6" lengthAdjust="spacingAndGlyphs">DBD</text>
</svg>
</body></html>
